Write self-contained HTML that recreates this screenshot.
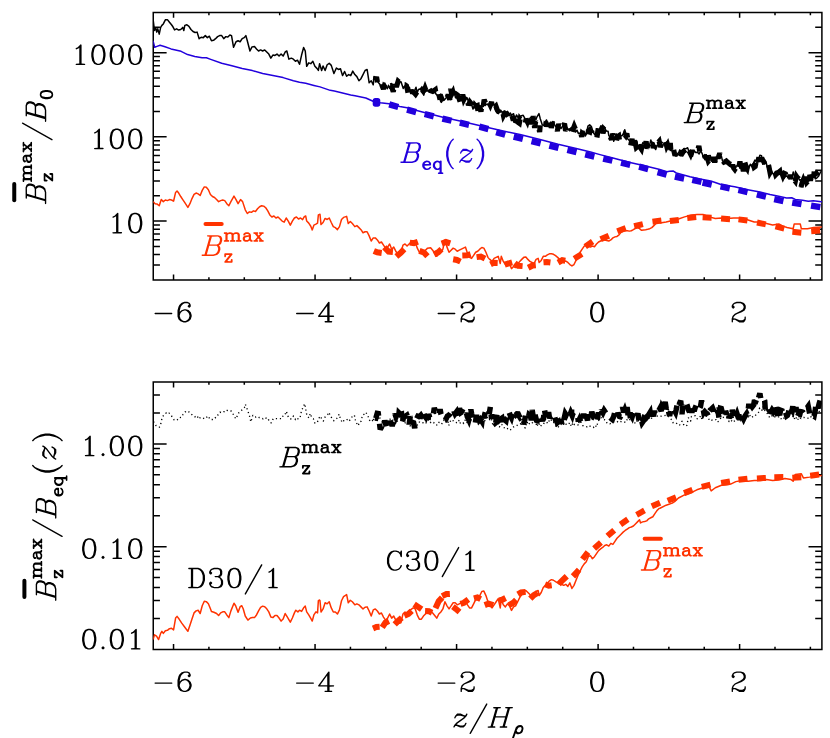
<!DOCTYPE html><html><head><meta charset="utf-8"><title>chart</title><style>html,body{margin:0;padding:0;background:#fff;font-family:"Liberation Sans",sans-serif}svg{display:block}</style></head><body><svg width="830" height="738" viewBox="0 0 830 738"><path d="M153.25,12.5H821.9V279.9H153.25ZM173.54,279.9v-5.35M173.54,12.5v5.35M208.92,279.9v-2.67M208.92,12.5v2.67M244.3,279.9v-2.67M244.3,12.5v2.67M279.68,279.9v-2.67M279.68,12.5v2.67M315.06,279.9v-5.35M315.06,12.5v5.35M350.44,279.9v-2.67M350.44,12.5v2.67M385.82,279.9v-2.67M385.82,12.5v2.67M421.2,279.9v-2.67M421.2,12.5v2.67M456.58,279.9v-5.35M456.58,12.5v5.35M491.96,279.9v-2.67M491.96,12.5v2.67M527.34,279.9v-2.67M527.34,12.5v2.67M562.72,279.9v-2.67M562.72,12.5v2.67M598.1,279.9v-5.35M598.1,12.5v5.35M633.48,279.9v-2.67M633.48,12.5v2.67M668.86,279.9v-2.67M668.86,12.5v2.67M704.24,279.9v-2.67M704.24,12.5v2.67M739.62,279.9v-5.35M739.62,12.5v5.35M775,279.9v-2.67M775,12.5v2.67M810.38,279.9v-2.67M810.38,12.5v2.67M153.25,279.9h6.69M821.9,279.9h-6.69M153.25,265.07h6.69M821.9,265.07h-6.69M153.25,254.56h6.69M821.9,254.56h-6.69M153.25,246.4h6.69M821.9,246.4h-6.69M153.25,239.73h6.69M821.9,239.73h-6.69M153.25,234.09h6.69M821.9,234.09h-6.69M153.25,229.21h6.69M821.9,229.21h-6.69M153.25,224.91h6.69M821.9,224.91h-6.69M153.25,221.05h13.37M821.9,221.05h-13.37M153.25,195.71h6.69M821.9,195.71h-6.69M153.25,180.88h6.69M821.9,180.88h-6.69M153.25,170.36h6.69M821.9,170.36h-6.69M153.25,162.21h6.69M821.9,162.21h-6.69M153.25,155.54h6.69M821.9,155.54h-6.69M153.25,149.9h6.69M821.9,149.9h-6.69M153.25,145.02h6.69M821.9,145.02h-6.69M153.25,140.71h6.69M821.9,140.71h-6.69M153.25,136.86h13.37M821.9,136.86h-13.37M153.25,111.52h6.69M821.9,111.52h-6.69M153.25,96.69h6.69M821.9,96.69h-6.69M153.25,86.17h6.69M821.9,86.17h-6.69M153.25,78.01h6.69M821.9,78.01h-6.69M153.25,71.35h6.69M821.9,71.35h-6.69M153.25,65.71h6.69M821.9,65.71h-6.69M153.25,60.83h6.69M821.9,60.83h-6.69M153.25,56.52h6.69M821.9,56.52h-6.69M153.25,52.67h13.37M821.9,52.67h-13.37M153.25,27.33h6.69M821.9,27.33h-6.69M153.25,12.5h6.69M821.9,12.5h-6.69" fill="none" stroke="#000" stroke-width="1.5" stroke-linecap="butt" stroke-linejoin="miter"/>
<path d="M153.25,382.05H821.9V649.4H153.25ZM173.54,649.4v-5.35M173.54,382.05v5.35M208.92,649.4v-2.67M208.92,382.05v2.67M244.3,649.4v-2.67M244.3,382.05v2.67M279.68,649.4v-2.67M279.68,382.05v2.67M315.06,649.4v-5.35M315.06,382.05v5.35M350.44,649.4v-2.67M350.44,382.05v2.67M385.82,649.4v-2.67M385.82,382.05v2.67M421.2,649.4v-2.67M421.2,382.05v2.67M456.58,649.4v-5.35M456.58,382.05v5.35M491.96,649.4v-2.67M491.96,382.05v2.67M527.34,649.4v-2.67M527.34,382.05v2.67M562.72,649.4v-2.67M562.72,382.05v2.67M598.1,649.4v-5.35M598.1,382.05v5.35M633.48,649.4v-2.67M633.48,382.05v2.67M668.86,649.4v-2.67M668.86,382.05v2.67M704.24,649.4v-2.67M704.24,382.05v2.67M739.62,649.4v-5.35M739.62,382.05v5.35M775,649.4v-2.67M775,382.05v2.67M810.38,649.4v-2.67M810.38,382.05v2.67M153.25,649.4h13.37M821.9,649.4h-13.37M153.25,618.47h6.69M821.9,618.47h-6.69M153.25,600.38h6.69M821.9,600.38h-6.69M153.25,587.54h6.69M821.9,587.54h-6.69M153.25,577.58h6.69M821.9,577.58h-6.69M153.25,569.45h6.69M821.9,569.45h-6.69M153.25,562.57h6.69M821.9,562.57h-6.69M153.25,556.61h6.69M821.9,556.61h-6.69M153.25,551.36h6.69M821.9,551.36h-6.69M153.25,546.65h13.37M821.9,546.65h-13.37M153.25,515.73h6.69M821.9,515.73h-6.69M153.25,497.63h6.69M821.9,497.63h-6.69M153.25,484.8h6.69M821.9,484.8h-6.69M153.25,474.84h6.69M821.9,474.84h-6.69M153.25,466.7h6.69M821.9,466.7h-6.69M153.25,459.82h6.69M821.9,459.82h-6.69M153.25,453.87h6.69M821.9,453.87h-6.69M153.25,448.61h6.69M821.9,448.61h-6.69M153.25,443.91h13.37M821.9,443.91h-13.37M153.25,412.98h6.69M821.9,412.98h-6.69M153.25,394.89h6.69M821.9,394.89h-6.69M153.25,382.05h6.69M821.9,382.05h-6.69" fill="none" stroke="#000" stroke-width="1.5" stroke-linecap="butt" stroke-linejoin="miter"/>
<path transform="translate(70.78,64.37)" d="M63.25,-20 60.62,-19.12 60.19,-18.75 60.12,-18.81 58.38,-16.19 58.12,-15.50 57.25,-11.06 57.25,-8.25 58.19,-3.56 60.12,-0.56 60.50,-0.25 63.12,0.62 65.31,0.69 68.31,-0.25 68.69,-0.56 70.62,-3.56 71.50,-7.94 71.50,-11.38 70.62,-15.75 68.75,-18.69 68.19,-19.12 65.56,-20ZM63.56,-18.62 65.19,-18.62 66.81,-17.81 67.50,-17.12 68.38,-15.38 69.25,-11 69.25,-8.31 68.38,-3.94 67.50,-2.19 66.81,-1.50 65.19,-0.69 63.62,-0.69 62,-1.50 61.31,-2.19 60.44,-3.94 59.56,-8.25 59.56,-11.06 60.44,-15.38 61.25,-17.06 62.06,-17.88ZM44.88,-20 42.25,-19.12 41.75,-18.81 39.94,-16.12 39.75,-15.62 38.88,-11.25 38.88,-8.06 39.75,-3.69 39.94,-3.25 41.69,-0.62 42.12,-0.25 44.75,0.62 46.94,0.69 50.06,-0.38 52.06,-3.25 52.25,-3.69 53.12,-8.06 53.12,-11.25 52.25,-15.62 52.06,-16.12 50.31,-18.75 49.75,-19.12 47.12,-20ZM45.19,-18.62 46.81,-18.62 48.31,-17.88 49.19,-17 50,-15.25 50.81,-11.19 50.81,-8.12 49.94,-3.88 49.12,-2.25 48.38,-1.50 46.81,-0.69 45.25,-0.69 43.62,-1.50 42.88,-2.25 42,-4.06 41.19,-8.12 41.19,-11.19 42.06,-15.44 42.81,-17 43.69,-17.88ZM26.44,-20 23.69,-19.06 23.25,-18.69 21.50,-16.06 20.50,-11.38 20.50,-7.94 21.38,-3.56 23.31,-0.56 23.69,-0.25 26.31,0.62 28.50,0.69 31.50,-0.25 31.88,-0.56 33.62,-3.19 33.88,-3.81 34.75,-8.25 34.75,-11.06 33.81,-15.75 33.62,-16.19 31.88,-18.81 31.81,-18.75 31.38,-19.12 28.75,-20ZM26.81,-18.62 28.38,-18.62 30,-17.81 30.75,-17.06 31.56,-15.38 32.44,-11.06 32.44,-8.25 31.56,-3.94 30.69,-2.19 30,-1.50 28.38,-0.69 26.81,-0.69 25.19,-1.50 24.50,-2.19 23.62,-3.94 22.75,-8.31 22.75,-11 23.62,-15.38 24.50,-17.12 25.25,-17.88ZM10.12,-20 9.62,-19.81 6.94,-17.12 5.25,-16.31 4.94,-16 4.81,-15.62 5.12,-15.06 5.50,-14.94 5.81,-15 7.69,-15.94 8.44,-16.62 8.50,-16.56 8.50,-0.75 5.25,-0.62 4.94,-0.38 4.81,0 4.94,0.38 5.50,0.69 13.81,0.69 14.19,0.56 14.50,0 14.38,-0.38 13.81,-0.69 10.81,-0.75 10.81,-19.31 10.69,-19.69Z" fill="#000" fill-rule="evenodd"/>
<path transform="translate(89.21,148.56)" d="M44.88,-20 42.25,-19.12 41.75,-18.81 39.94,-16.12 39.75,-15.62 38.88,-11.25 38.88,-8.06 39.75,-3.69 39.94,-3.25 41.69,-0.62 42.12,-0.25 44.75,0.62 46.94,0.69 50.06,-0.38 52.06,-3.25 52.25,-3.69 53.12,-8.06 53.12,-11.25 52.25,-15.62 52.06,-16.12 50.31,-18.75 49.75,-19.12 47.12,-20ZM45.19,-18.62 46.81,-18.62 48.31,-17.88 49.19,-17 50,-15.25 50.81,-11.19 50.81,-8.12 49.94,-3.88 49.12,-2.25 48.38,-1.50 46.81,-0.69 45.25,-0.69 43.62,-1.50 42.88,-2.25 42,-4.06 41.19,-8.12 41.19,-11.19 42.06,-15.44 42.81,-17 43.69,-17.88ZM26.44,-20 23.69,-19.06 23.25,-18.69 21.50,-16.06 20.50,-11.38 20.50,-7.94 21.38,-3.56 23.31,-0.56 23.69,-0.25 26.31,0.62 28.50,0.69 31.50,-0.25 31.88,-0.56 33.62,-3.19 33.88,-3.81 34.75,-8.25 34.75,-11.06 33.81,-15.75 33.62,-16.19 31.88,-18.81 31.81,-18.75 31.38,-19.12 28.75,-20ZM26.81,-18.62 28.38,-18.62 30,-17.81 30.75,-17.06 31.56,-15.38 32.44,-11.06 32.44,-8.25 31.56,-3.94 30.69,-2.19 30,-1.50 28.38,-0.69 26.81,-0.69 25.19,-1.50 24.50,-2.19 23.62,-3.94 22.75,-8.31 22.75,-11 23.62,-15.38 24.50,-17.12 25.25,-17.88ZM10.12,-20 9.62,-19.81 6.94,-17.12 5.25,-16.31 4.94,-16 4.81,-15.62 5.12,-15.06 5.50,-14.94 5.81,-15 7.69,-15.94 8.44,-16.62 8.50,-16.56 8.50,-0.75 5.25,-0.62 4.94,-0.38 4.81,0 4.94,0.38 5.50,0.69 13.81,0.69 14.19,0.56 14.50,0 14.38,-0.38 13.81,-0.69 10.81,-0.75 10.81,-19.31 10.69,-19.69Z" fill="#000" fill-rule="evenodd"/>
<path transform="translate(107.59,232.75)" d="M26.44,-20 23.69,-19.06 23.25,-18.69 21.50,-16.06 20.50,-11.38 20.50,-7.94 21.38,-3.56 23.31,-0.56 23.69,-0.25 26.31,0.62 28.50,0.69 31.50,-0.25 31.88,-0.56 33.62,-3.19 33.88,-3.81 34.75,-8.25 34.75,-11.06 33.81,-15.75 33.62,-16.19 31.88,-18.81 31.81,-18.75 31.38,-19.12 28.75,-20ZM26.81,-18.62 28.38,-18.62 30,-17.81 30.75,-17.06 31.56,-15.38 32.44,-11.06 32.44,-8.25 31.56,-3.94 30.69,-2.19 30,-1.50 28.38,-0.69 26.81,-0.69 25.19,-1.50 24.50,-2.19 23.62,-3.94 22.75,-8.31 22.75,-11 23.62,-15.38 24.50,-17.12 25.25,-17.88ZM10.12,-20 9.62,-19.81 6.94,-17.12 5.25,-16.31 4.94,-16 4.81,-15.62 5.12,-15.06 5.50,-14.94 5.81,-15 7.69,-15.94 8.44,-16.62 8.50,-16.56 8.50,-0.75 5.25,-0.62 4.94,-0.38 4.81,0 4.94,0.38 5.50,0.69 13.81,0.69 14.19,0.56 14.50,0 14.38,-0.38 13.81,-0.69 10.81,-0.75 10.81,-19.31 10.69,-19.69Z" fill="#000" fill-rule="evenodd"/>
<path transform="translate(80.03,455.61)" d="M23,-2.50 22.50,-2.31 21.50,-1.31 21.38,-0.94 21.62,-0.38 22.50,0.50 23,0.69 23.50,0.50 24.38,-0.38 24.62,-0.94 24.50,-1.31 23.50,-2.31ZM54.06,-20 51.44,-19.12 50.94,-18.81 49.19,-16.19 48.94,-15.56 48.06,-11.19 48.06,-8.12 49,-3.56 50.88,-0.62 51.31,-0.25 53.94,0.62 56.12,0.69 59.12,-0.25 59.56,-0.69 61.31,-3.31 62.31,-8 62.31,-11.31 61.31,-16.06 59.56,-18.69 59.12,-19.06 56.31,-20ZM54.38,-18.62 56,-18.62 57.62,-17.81 58.38,-17 59.19,-15.31 60.06,-10.94 60.06,-8.38 59.19,-4 58.31,-2.25 57.56,-1.50 56,-0.69 54.44,-0.69 52.81,-1.50 52.06,-2.25 51.25,-3.88 50.38,-8.19 50.38,-11.12 51.25,-15.44 52.06,-17.06 52.88,-17.88ZM35.62,-20 32.88,-19.06 32.44,-18.69 30.69,-16.06 29.69,-11.31 29.69,-8 30.62,-3.44 32.44,-0.69 32.88,-0.25 35.50,0.62 37.75,0.69 40.88,-0.38 42.88,-3.25 43.06,-3.75 43.94,-8.12 43.94,-11.19 43,-15.75 42.81,-16.19 41.06,-18.81 40.56,-19.12 37.94,-20ZM36,-18.62 37.62,-18.62 39.12,-17.88 39.94,-17.06 40.75,-15.44 41.62,-11.12 41.62,-8.19 40.75,-3.88 39.94,-2.25 39.19,-1.50 37.62,-0.69 36.06,-0.69 34.44,-1.50 33.69,-2.25 32.81,-4 31.94,-8.38 31.94,-10.94 32.81,-15.31 33.62,-17 34.25,-17.69ZM10.12,-20 9.62,-19.81 6.94,-17.12 5.25,-16.31 4.94,-16 4.81,-15.62 5.12,-15.06 5.50,-14.94 5.81,-15 7.69,-15.94 8.44,-16.62 8.50,-16.56 8.50,-0.75 5.25,-0.62 4.94,-0.38 4.81,0 4.94,0.38 5.50,0.69 13.81,0.69 14.19,0.56 14.50,0 14.38,-0.38 13.81,-0.69 10.81,-0.75 10.81,-19.31 10.69,-19.69Z" fill="#000" fill-rule="evenodd"/>
<path transform="translate(80.03,558.35)" d="M23,-2.50 22.50,-2.31 21.50,-1.31 21.38,-0.94 21.62,-0.38 22.50,0.50 23,0.69 23.50,0.50 24.38,-0.38 24.62,-0.94 24.50,-1.31 23.50,-2.31ZM54.06,-20 51.44,-19.12 50.94,-18.81 49.19,-16.19 48.94,-15.56 48.06,-11.19 48.06,-8.12 49,-3.56 50.88,-0.62 51.31,-0.25 53.94,0.62 56.12,0.69 59.12,-0.25 59.56,-0.69 61.31,-3.31 62.31,-8 62.31,-11.31 61.31,-16.06 59.56,-18.69 59.12,-19.06 56.31,-20ZM54.38,-18.62 56,-18.62 57.62,-17.81 58.38,-17 59.19,-15.31 60.06,-10.94 60.06,-8.38 59.19,-4 58.31,-2.25 57.56,-1.50 56,-0.69 54.44,-0.69 52.81,-1.50 52.06,-2.25 51.25,-3.88 50.38,-8.19 50.38,-11.12 51.25,-15.44 52.06,-17.06 52.88,-17.88ZM37.75,-20 37.25,-19.81 34.56,-17.12 32.88,-16.31 32.56,-16 32.44,-15.62 32.75,-15.06 33.12,-14.94 33.44,-15 35.19,-15.88 36.06,-16.69 36.12,-16.62 36.12,-0.75 32.88,-0.62 32.56,-0.38 32.44,0 32.56,0.38 33.12,0.69 41.38,0.69 41.75,0.56 42.06,0 41.94,-0.38 41.38,-0.69 38.44,-0.75 38.44,-19.31 38.31,-19.69ZM8.06,-20 5.44,-19.12 4.94,-18.81 3.19,-16.19 2.94,-15.56 2.06,-11.19 2.06,-8.12 3,-3.56 4.88,-0.62 5.31,-0.25 7.94,0.62 10.12,0.69 13.12,-0.25 13.56,-0.69 15.31,-3.31 16.31,-8 16.31,-11.31 15.31,-16.06 13.56,-18.69 13.12,-19.06 10.31,-20ZM8.38,-18.62 10,-18.62 11.62,-17.81 12.38,-17 13.19,-15.31 14.06,-10.94 14.06,-8.38 13.19,-4 12.31,-2.25 11.56,-1.50 10,-0.69 8.44,-0.69 6.81,-1.50 6.06,-2.25 5.25,-3.88 4.38,-8.19 4.38,-11.12 5.25,-15.44 6.06,-17.06 6.88,-17.88Z" fill="#000" fill-rule="evenodd"/>
<path transform="translate(80.03,648.85)" d="M23,-2.50 22.50,-2.31 21.50,-1.31 21.38,-0.94 21.62,-0.38 22.50,0.50 23,0.69 23.50,0.50 24.38,-0.38 24.62,-0.94 24.50,-1.31 23.50,-2.31ZM56.12,-20 55.62,-19.81 52.94,-17.12 51.25,-16.31 50.94,-16 50.81,-15.62 51.12,-15.06 51.50,-14.94 51.81,-15 53.69,-15.94 54.44,-16.62 54.50,-16.56 54.50,-0.75 51.25,-0.62 50.94,-0.38 50.81,0 50.94,0.38 51.50,0.69 59.81,0.69 60.19,0.56 60.50,0 60.38,-0.38 59.81,-0.69 56.81,-0.75 56.81,-19.31 56.69,-19.69ZM35.62,-20 32.88,-19.06 32.44,-18.69 30.69,-16.06 29.69,-11.31 29.69,-8 30.62,-3.44 32.44,-0.69 32.88,-0.25 35.50,0.62 37.75,0.69 40.88,-0.38 42.88,-3.25 43.06,-3.75 43.94,-8.12 43.94,-11.19 43,-15.75 42.81,-16.19 41.06,-18.81 40.56,-19.12 37.94,-20ZM36,-18.62 37.62,-18.62 39.12,-17.88 39.94,-17.06 40.75,-15.44 41.62,-11.12 41.62,-8.19 40.75,-3.88 39.94,-2.25 39.19,-1.50 37.62,-0.69 36.06,-0.69 34.44,-1.50 33.69,-2.25 32.81,-4 31.94,-8.38 31.94,-10.94 32.81,-15.31 33.62,-17 34.25,-17.69ZM8.06,-20 5.44,-19.12 4.94,-18.81 3.19,-16.19 2.94,-15.56 2.06,-11.19 2.06,-8.12 3,-3.56 4.88,-0.62 5.31,-0.25 7.94,0.62 10.12,0.69 13.12,-0.25 13.56,-0.69 15.31,-3.31 16.31,-8 16.31,-11.31 15.31,-16.06 13.56,-18.69 13.12,-19.06 10.31,-20ZM8.38,-18.62 10,-18.62 11.62,-17.81 12.38,-17 13.19,-15.31 14.06,-10.94 14.06,-8.38 13.19,-4 12.31,-2.25 11.56,-1.50 10,-0.69 8.44,-0.69 6.81,-1.50 6.06,-2.25 5.25,-3.88 4.38,-8.19 4.38,-11.12 5.25,-15.44 6.06,-17.06 6.88,-17.88Z" fill="#000" fill-rule="evenodd"/>
<path transform="translate(151.48,321.8)" d="M3,-8.25 3.12,-7.88 3.69,-7.56 20.25,-7.56 20.62,-7.69 20.94,-8.25 20.81,-8.62 20.25,-8.94 3.69,-8.94 3.31,-8.81ZM35.88,-20 32.88,-20 30.25,-19.12 29.88,-18.88 27.88,-16.88 27,-15.12 26,-11.25 26,-5.31 26.94,-2.56 27.12,-2.25 28.94,-0.44 32.19,0.69 34.38,0.62 37.31,-0.44 39.12,-2.25 39.31,-2.56 40.25,-5.50 40.19,-6.81 39.31,-9.44 37.06,-11.69 34.25,-12.62 32.88,-12.62 30,-11.62 28.38,-10 28.31,-10.06 28.31,-11.12 29.12,-14.44 29.94,-16.06 31.69,-17.88 33.25,-18.62 35.75,-18.62 37.12,-17.94 37.50,-17.19 36.31,-16.12 36.12,-15.62 36.31,-15.12 37.19,-14.25 37.75,-14.06 38,-14.12 39.12,-15.12 39.31,-15.62 39.25,-16.94 38.31,-18.75 37.94,-19.06ZM33.06,-11.25 34,-11.25 35.38,-10.56 37.12,-8.81 37.94,-6.44 37.94,-5.56 37.12,-3.12 35.50,-1.50 33.94,-0.69 32.38,-0.69 30.75,-1.50 29.12,-3.12 28.31,-5.50 28.31,-6.50 29.06,-8.75 30.81,-10.50Z" fill="#000" fill-rule="evenodd"/>
<path transform="translate(151.48,691.4)" d="M3,-8.25 3.12,-7.88 3.69,-7.56 20.25,-7.56 20.62,-7.69 20.94,-8.25 20.81,-8.62 20.25,-8.94 3.69,-8.94 3.31,-8.81ZM35.88,-20 32.88,-20 30.25,-19.12 29.88,-18.88 27.88,-16.88 27,-15.12 26,-11.25 26,-5.31 26.94,-2.56 27.12,-2.25 28.94,-0.44 32.19,0.69 34.38,0.62 37.31,-0.44 39.12,-2.25 39.31,-2.56 40.25,-5.50 40.19,-6.81 39.31,-9.44 37.06,-11.69 34.25,-12.62 32.88,-12.62 30,-11.62 28.38,-10 28.31,-10.06 28.31,-11.12 29.12,-14.44 29.94,-16.06 31.69,-17.88 33.25,-18.62 35.75,-18.62 37.12,-17.94 37.50,-17.19 36.31,-16.12 36.12,-15.62 36.31,-15.12 37.19,-14.25 37.75,-14.06 38,-14.12 39.12,-15.12 39.31,-15.62 39.25,-16.94 38.31,-18.75 37.94,-19.06ZM33.06,-11.25 34,-11.25 35.38,-10.56 37.12,-8.81 37.94,-6.44 37.94,-5.56 37.12,-3.12 35.50,-1.50 33.94,-0.69 32.38,-0.69 30.75,-1.50 29.12,-3.12 28.31,-5.50 28.31,-6.50 29.06,-8.75 30.81,-10.50Z" fill="#000" fill-rule="evenodd"/>
<path transform="translate(293,321.8)" d="M3,-8.25 3.12,-7.88 3.69,-7.56 20.25,-7.56 20.62,-7.69 20.94,-8.25 20.81,-8.62 20.25,-8.94 3.69,-8.94 3.31,-8.81ZM35.88,-20 35.25,-19.69 25.19,-5.94 25.06,-5.50 25.19,-5.12 25.75,-4.81 34.19,-4.81 34.25,-0.75 32.19,-0.69 31.81,-0.56 31.56,-0.25 31.56,0.25 31.81,0.56 32.19,0.69 38.62,0.69 39,0.56 39.31,0 39,-0.56 38.62,-0.69 36.56,-0.75 36.56,-4.75 40.50,-4.81 40.88,-4.94 41.19,-5.50 41.06,-5.88 40.50,-6.19 36.56,-6.25 36.56,-19.31 36.44,-19.69ZM34.19,-15.88 34.25,-6.25 27.19,-6.19 27.12,-6.25Z" fill="#000" fill-rule="evenodd"/>
<path transform="translate(293,691.4)" d="M3,-8.25 3.12,-7.88 3.69,-7.56 20.25,-7.56 20.62,-7.69 20.94,-8.25 20.81,-8.62 20.25,-8.94 3.69,-8.94 3.31,-8.81ZM35.88,-20 35.25,-19.69 25.19,-5.94 25.06,-5.50 25.19,-5.12 25.75,-4.81 34.19,-4.81 34.25,-0.75 32.19,-0.69 31.81,-0.56 31.56,-0.25 31.56,0.25 31.81,0.56 32.19,0.69 38.62,0.69 39,0.56 39.31,0 39,-0.56 38.62,-0.69 36.56,-0.75 36.56,-4.75 40.50,-4.81 40.88,-4.94 41.19,-5.50 41.06,-5.88 40.50,-6.19 36.56,-6.25 36.56,-19.31 36.44,-19.69ZM34.19,-15.88 34.25,-6.25 27.19,-6.19 27.12,-6.25Z" fill="#000" fill-rule="evenodd"/>
<path transform="translate(434.52,321.8)" d="M3,-8.25 3.12,-7.88 3.69,-7.56 20.25,-7.56 20.62,-7.69 20.94,-8.25 20.81,-8.62 20.25,-8.94 3.69,-8.94 3.31,-8.81ZM28.44,-19.12 26.94,-17.75 26.06,-16 26.06,-14.50 27.12,-13.31 27.62,-13.12 28,-13.25 29.12,-14.50 29.19,-14.75 29.06,-15.12 27.81,-16.31 28.12,-17.06 28.88,-17.81 31.31,-18.62 34.81,-18.62 36.44,-17.81 37.19,-17.06 37.94,-15.50 37.94,-13.94 37.25,-12.56 36.94,-12.25 34.38,-10.56 29.12,-8 27.12,-6.06 26.88,-5.62 26,-3 26.06,0.25 26.44,0.62 26.69,0.69 27.06,0.56 27.38,0 27.38,-1.56 27.88,-2.06 29.25,-2.06 33.81,0.62 38,0.62 39.31,-0.69 40.19,-2.44 40.25,-4.62 40.12,-5 39.81,-5.25 39.31,-5.25 38.94,-4.88 38.88,-3.06 38.19,-2.38 36.69,-1.62 34.06,-1.62 29.81,-3.38 27.62,-3.50 28.19,-5.12 29.88,-6.81 31.62,-7.69 36.12,-9.44 38.94,-11.31 39.31,-11.69 40.19,-13.50 40.19,-16 39.31,-17.75 38.12,-18.94 35.19,-20 31.06,-20Z" fill="#000" fill-rule="evenodd"/>
<path transform="translate(434.52,691.4)" d="M3,-8.25 3.12,-7.88 3.69,-7.56 20.25,-7.56 20.62,-7.69 20.94,-8.25 20.81,-8.62 20.25,-8.94 3.69,-8.94 3.31,-8.81ZM28.44,-19.12 26.94,-17.75 26.06,-16 26.06,-14.50 27.12,-13.31 27.62,-13.12 28,-13.25 29.12,-14.50 29.19,-14.75 29.06,-15.12 27.81,-16.31 28.12,-17.06 28.88,-17.81 31.31,-18.62 34.81,-18.62 36.44,-17.81 37.19,-17.06 37.94,-15.50 37.94,-13.94 37.25,-12.56 36.94,-12.25 34.38,-10.56 29.12,-8 27.12,-6.06 26.88,-5.62 26,-3 26.06,0.25 26.44,0.62 26.69,0.69 27.06,0.56 27.38,0 27.38,-1.56 27.88,-2.06 29.25,-2.06 33.81,0.62 38,0.62 39.31,-0.69 40.19,-2.44 40.25,-4.62 40.12,-5 39.81,-5.25 39.31,-5.25 38.94,-4.88 38.88,-3.06 38.19,-2.38 36.69,-1.62 34.06,-1.62 29.81,-3.38 27.62,-3.50 28.19,-5.12 29.88,-6.81 31.62,-7.69 36.12,-9.44 38.94,-11.31 39.31,-11.69 40.19,-13.50 40.19,-16 39.31,-17.75 38.12,-18.94 35.19,-20 31.06,-20Z" fill="#000" fill-rule="evenodd"/>
<path transform="translate(588.01,321.8)" d="M8.06,-20 5.44,-19.12 4.94,-18.81 3.19,-16.19 2.94,-15.56 2.06,-11.19 2.06,-8.12 3,-3.56 4.88,-0.62 5.31,-0.25 7.94,0.62 10.12,0.69 13.12,-0.25 13.56,-0.69 15.31,-3.31 16.31,-8 16.31,-11.31 15.31,-16.06 13.56,-18.69 13.12,-19.06 10.31,-20ZM8.38,-18.62 10,-18.62 11.62,-17.81 12.38,-17 13.19,-15.31 14.06,-10.94 14.06,-8.38 13.19,-4 12.31,-2.25 11.56,-1.50 10,-0.69 8.44,-0.69 6.81,-1.50 6.06,-2.25 5.25,-3.88 4.38,-8.19 4.38,-11.12 5.25,-15.44 6.06,-17.06 6.88,-17.88Z" fill="#000" fill-rule="evenodd"/>
<path transform="translate(588.01,691.4)" d="M8.06,-20 5.44,-19.12 4.94,-18.81 3.19,-16.19 2.94,-15.56 2.06,-11.19 2.06,-8.12 3,-3.56 4.88,-0.62 5.31,-0.25 7.94,0.62 10.12,0.69 13.12,-0.25 13.56,-0.69 15.31,-3.31 16.31,-8 16.31,-11.31 15.31,-16.06 13.56,-18.69 13.12,-19.06 10.31,-20ZM8.38,-18.62 10,-18.62 11.62,-17.81 12.38,-17 13.19,-15.31 14.06,-10.94 14.06,-8.38 13.19,-4 12.31,-2.25 11.56,-1.50 10,-0.69 8.44,-0.69 6.81,-1.50 6.06,-2.25 5.25,-3.88 4.38,-8.19 4.38,-11.12 5.25,-15.44 6.06,-17.06 6.88,-17.88Z" fill="#000" fill-rule="evenodd"/>
<path transform="translate(729.53,321.8)" d="M4.50,-19.12 3.06,-17.81 2.12,-15.94 2.12,-14.50 3.19,-13.31 3.69,-13.12 4.19,-13.31 5.25,-14.50 5.31,-14.75 5.19,-15.12 3.88,-16.31 4.19,-17 4.94,-17.81 7.38,-18.62 10.94,-18.62 12.44,-17.88 13.25,-17.06 14.06,-15.44 14.06,-14 13.19,-12.38 10.69,-10.69 5.19,-8 3,-5.75 2.12,-3.12 2.12,0.25 2.50,0.62 2.75,0.69 3.12,0.56 3.44,0 3.44,-1.50 4,-2.06 5.38,-2.06 9.88,0.62 14.06,0.62 14.31,0.50 15.38,-0.62 16.25,-2.38 16.31,-4.62 16.19,-5 15.88,-5.25 15.38,-5.25 15,-4.88 14.94,-3.06 14.25,-2.38 12.75,-1.62 10.12,-1.62 5.88,-3.38 3.81,-3.44 3.75,-3.62 4.25,-5.12 5.94,-6.81 7.69,-7.69 12.19,-9.44 15.12,-11.38 16.25,-13.44 16.25,-16 15.31,-17.88 14.31,-18.88 13.88,-19.12 11.25,-20 7.12,-20Z" fill="#000" fill-rule="evenodd"/>
<path transform="translate(729.53,691.4)" d="M4.50,-19.12 3.06,-17.81 2.12,-15.94 2.12,-14.50 3.19,-13.31 3.69,-13.12 4.19,-13.31 5.25,-14.50 5.31,-14.75 5.19,-15.12 3.88,-16.31 4.19,-17 4.94,-17.81 7.38,-18.62 10.94,-18.62 12.44,-17.88 13.25,-17.06 14.06,-15.44 14.06,-14 13.19,-12.38 10.69,-10.69 5.19,-8 3,-5.75 2.12,-3.12 2.12,0.25 2.50,0.62 2.75,0.69 3.12,0.56 3.44,0 3.44,-1.50 4,-2.06 5.38,-2.06 9.88,0.62 14.06,0.62 14.31,0.50 15.38,-0.62 16.25,-2.38 16.31,-4.62 16.19,-5 15.88,-5.25 15.38,-5.25 15,-4.88 14.94,-3.06 14.25,-2.38 12.75,-1.62 10.12,-1.62 5.88,-3.38 3.81,-3.44 3.75,-3.62 4.25,-5.12 5.94,-6.81 7.69,-7.69 12.19,-9.44 15.12,-11.38 16.25,-13.44 16.25,-16 15.31,-17.88 14.31,-18.88 13.88,-19.12 11.25,-20 7.12,-20Z" fill="#000" fill-rule="evenodd"/>
<path transform="translate(684.25,122.5)" d="M5.25,-19.94 4.94,-19.69 4.81,-19.31 5.12,-18.75 5.50,-18.62 7.38,-18.56 2.38,-1.06 2.19,-0.69 -0.25,-0.62 -0.62,-0.25 -0.69,0 -0.56,0.38 0,0.69 11.19,0.69 14.69,-0.19 15.25,-0.44 17.06,-2.25 18.19,-5.50 18.12,-7.69 17.19,-9.50 16.62,-10 17.88,-10.50 18.94,-11.56 20,-14.50 19.94,-16.88 19.06,-18.62 18.50,-19.12 15.88,-20ZM4.62,-0.75 7.12,-9.44 14.44,-9.44 15,-8.88 15.88,-7.19 15.88,-5.56 15.06,-3.19 13.38,-1.50 11,-0.69ZM9.69,-18.56 15.50,-18.62 16.88,-17.94 17.69,-16.44 17.69,-14.69 16.88,-12.31 16.12,-11.56 14.62,-10.81 7.56,-10.81 7.56,-11.19ZM51.26,-22.61 51.08,-22.11 51.26,-21.61 51.58,-21.36 52.64,-21.30 55.14,-18.11 52.64,-15.11 51.58,-15.05 51.26,-14.80 51.08,-14.30 51.14,-13.99 51.39,-13.68 51.89,-13.49 55.58,-13.55 56.01,-13.99 56.01,-14.61 55.58,-15.05 54.83,-15.18 56.20,-16.74 57.51,-15.11 57.20,-15.05 56.76,-14.61 56.76,-13.99 57.20,-13.55 60.83,-13.49 61.14,-13.55 61.45,-13.80 61.64,-14.30 61.45,-14.80 61.14,-15.05 60.14,-15.11 57.58,-18.36 60.08,-21.30 61.14,-21.36 61.45,-21.61 61.64,-22.11 61.58,-22.43 61.33,-22.74 60.83,-22.93 57.20,-22.86 56.76,-22.43 56.76,-21.80 57.20,-21.36 57.89,-21.24 56.58,-19.74 56.26,-19.99 55.26,-21.30 55.58,-21.36 56.01,-21.80 56.01,-22.43 55.58,-22.86 51.89,-22.93 51.58,-22.86ZM41.26,-21.55 41.08,-20.99 41.14,-20.11 41.39,-19.80 41.89,-19.61 42.45,-19.61 42.95,-19.80 43.20,-20.11 43.20,-21.05 43.70,-21.30 45.58,-21.30 46.64,-20.68 46.64,-20.24 46.45,-20.05 43.51,-19.61 43.33,-19.49 43.20,-19.55 41.70,-19.05 41.26,-18.74 40.58,-17.49 40.51,-15.99 40.89,-14.93 41.39,-14.24 41.64,-14.05 43.14,-13.55 45.20,-13.49 45.58,-13.55 46.70,-14.11 47.20,-14.61 47.64,-14.11 48.76,-13.55 49.70,-13.49 50.01,-13.55 50.33,-13.80 50.51,-14.30 50.45,-14.61 50.01,-15.05 49.45,-15.11 48.83,-16.18 48.76,-20.24 48.20,-21.36 47.26,-22.30 46.14,-22.86 43.51,-22.93 42.08,-22.30ZM46.64,-18.36 46.64,-16.30 45.89,-15.55 45.01,-15.11 43.70,-15.11 43.01,-15.49 42.70,-16.11 42.70,-16.99 43.14,-17.68 44.08,-18.05 46.33,-18.43ZM21.57,-22.43 21.57,-21.80 21.82,-21.49 22.32,-21.30 23.20,-21.24 23.20,-15.18 22.01,-15.05 21.70,-14.80 21.51,-14.30 21.57,-13.99 22.01,-13.55 26.20,-13.49 26.51,-13.55 26.82,-13.80 27.01,-14.30 26.95,-14.61 26.70,-14.93 26.20,-15.11 25.39,-15.18 25.39,-20.11 26.14,-20.86 27.45,-21.30 28.26,-21.30 28.89,-20.99 29.32,-20.24 29.32,-15.18 28.14,-15.05 27.82,-14.80 27.64,-14.30 27.70,-13.99 28.14,-13.55 32.39,-13.49 32.70,-13.55 33.01,-13.80 33.20,-14.30 33.14,-14.61 32.89,-14.93 32.39,-15.11 31.51,-15.18 31.51,-20.11 32.26,-20.86 33.58,-21.30 34.45,-21.30 35.08,-20.99 35.45,-20.30 35.45,-15.18 34.58,-15.11 34.08,-14.93 33.83,-14.61 33.76,-14.30 33.95,-13.80 34.26,-13.55 34.58,-13.49 38.51,-13.49 38.83,-13.55 39.26,-13.99 39.26,-14.61 39.01,-14.93 38.51,-15.11 37.64,-15.18 37.64,-20.43 37.58,-20.80 37.01,-21.93 36.51,-22.36 35.01,-22.86 33.51,-22.93 31.64,-22.36 30.95,-21.80 30.32,-22.36 28.45,-22.93 26.95,-22.86 25.39,-22.30 24.89,-22.86 22.32,-22.93 22.01,-22.86ZM22.39,-1.64 22.14,-1.33 22.07,-1.01 22.07,1.24 22.14,1.55 22.57,1.99 23.20,1.99 23.51,1.74 23.70,1.36 24.01,-0.08 24.14,-0.20 27.32,-0.14 22.26,6.24 22.07,6.80 22.26,7.30 22.57,7.55 22.89,7.61 29.57,7.61 30.07,7.42 30.32,7.11 30.39,6.80 30.39,4.55 30.32,4.24 29.89,3.80 29.26,3.80 28.95,4.05 28.76,4.36 28.32,5.99 25.14,5.92 30.14,-0.39 30.39,-1.01 30.20,-1.51 29.89,-1.76 29.57,-1.83 22.89,-1.83Z" fill="#000" fill-rule="evenodd"/>
<path transform="translate(202.2,255.2)" d="M5.25,-19.94 4.94,-19.69 4.81,-19.31 5.12,-18.75 5.50,-18.62 7.38,-18.56 2.38,-1.06 2.19,-0.69 -0.25,-0.62 -0.62,-0.25 -0.69,0 -0.56,0.38 0,0.69 11.19,0.69 14.69,-0.19 15.25,-0.44 17.06,-2.25 18.19,-5.50 18.12,-7.69 17.19,-9.50 16.62,-10 17.88,-10.50 18.94,-11.56 20,-14.50 19.94,-16.88 19.06,-18.62 18.50,-19.12 15.88,-20ZM4.62,-0.75 7.12,-9.44 14.44,-9.44 15,-8.88 15.88,-7.19 15.88,-5.56 15.06,-3.19 13.38,-1.50 11,-0.69ZM9.69,-18.56 15.50,-18.62 16.88,-17.94 17.69,-16.44 17.69,-14.69 16.88,-12.31 16.12,-11.56 14.62,-10.81 7.56,-10.81 7.56,-11.19ZM51.26,-22.61 51.08,-22.11 51.26,-21.61 51.58,-21.36 52.64,-21.30 55.14,-18.11 52.64,-15.11 51.58,-15.05 51.26,-14.80 51.08,-14.30 51.14,-13.99 51.39,-13.68 51.89,-13.49 55.58,-13.55 56.01,-13.99 56.01,-14.61 55.58,-15.05 54.83,-15.18 56.20,-16.74 57.51,-15.11 57.20,-15.05 56.76,-14.61 56.76,-13.99 57.20,-13.55 60.83,-13.49 61.14,-13.55 61.45,-13.80 61.64,-14.30 61.45,-14.80 61.14,-15.05 60.14,-15.11 57.58,-18.36 60.08,-21.30 61.14,-21.36 61.45,-21.61 61.64,-22.11 61.58,-22.43 61.33,-22.74 60.83,-22.93 57.20,-22.86 56.76,-22.43 56.76,-21.80 57.20,-21.36 57.89,-21.24 56.58,-19.74 56.26,-19.99 55.26,-21.30 55.58,-21.36 56.01,-21.80 56.01,-22.43 55.58,-22.86 51.89,-22.93 51.58,-22.86ZM41.26,-21.55 41.08,-20.99 41.14,-20.11 41.39,-19.80 41.89,-19.61 42.45,-19.61 42.95,-19.80 43.20,-20.11 43.20,-21.05 43.70,-21.30 45.58,-21.30 46.64,-20.68 46.64,-20.24 46.45,-20.05 43.51,-19.61 43.33,-19.49 43.20,-19.55 41.70,-19.05 41.26,-18.74 40.58,-17.49 40.51,-15.99 40.89,-14.93 41.39,-14.24 41.64,-14.05 43.14,-13.55 45.20,-13.49 45.58,-13.55 46.70,-14.11 47.20,-14.61 47.64,-14.11 48.76,-13.55 49.70,-13.49 50.01,-13.55 50.33,-13.80 50.51,-14.30 50.45,-14.61 50.01,-15.05 49.45,-15.11 48.83,-16.18 48.76,-20.24 48.20,-21.36 47.26,-22.30 46.14,-22.86 43.51,-22.93 42.08,-22.30ZM46.64,-18.36 46.64,-16.30 45.89,-15.55 45.01,-15.11 43.70,-15.11 43.01,-15.49 42.70,-16.11 42.70,-16.99 43.14,-17.68 44.08,-18.05 46.33,-18.43ZM21.57,-22.43 21.57,-21.80 21.82,-21.49 22.32,-21.30 23.20,-21.24 23.20,-15.18 22.01,-15.05 21.70,-14.80 21.51,-14.30 21.57,-13.99 22.01,-13.55 26.20,-13.49 26.51,-13.55 26.82,-13.80 27.01,-14.30 26.95,-14.61 26.70,-14.93 26.20,-15.11 25.39,-15.18 25.39,-20.11 26.14,-20.86 27.45,-21.30 28.26,-21.30 28.89,-20.99 29.32,-20.24 29.32,-15.18 28.14,-15.05 27.82,-14.80 27.64,-14.30 27.70,-13.99 28.14,-13.55 32.39,-13.49 32.70,-13.55 33.01,-13.80 33.20,-14.30 33.14,-14.61 32.89,-14.93 32.39,-15.11 31.51,-15.18 31.51,-20.11 32.26,-20.86 33.58,-21.30 34.45,-21.30 35.08,-20.99 35.45,-20.30 35.45,-15.18 34.58,-15.11 34.08,-14.93 33.83,-14.61 33.76,-14.30 33.95,-13.80 34.26,-13.55 34.58,-13.49 38.51,-13.49 38.83,-13.55 39.26,-13.99 39.26,-14.61 39.01,-14.93 38.51,-15.11 37.64,-15.18 37.64,-20.43 37.58,-20.80 37.01,-21.93 36.51,-22.36 35.01,-22.86 33.51,-22.93 31.64,-22.36 30.95,-21.80 30.32,-22.36 28.45,-22.93 26.95,-22.86 25.39,-22.30 24.89,-22.86 22.32,-22.93 22.01,-22.86ZM22.39,-1.64 22.14,-1.33 22.07,-1.01 22.07,1.24 22.14,1.55 22.57,1.99 23.20,1.99 23.51,1.74 23.70,1.36 24.01,-0.08 24.14,-0.20 27.32,-0.14 22.26,6.24 22.07,6.80 22.26,7.30 22.57,7.55 22.89,7.61 29.57,7.61 30.07,7.42 30.32,7.11 30.39,6.80 30.39,4.55 30.32,4.24 29.89,3.80 29.26,3.80 28.95,4.05 28.76,4.36 28.32,5.99 25.14,5.92 30.14,-0.39 30.39,-1.01 30.20,-1.51 29.89,-1.76 29.57,-1.83 22.89,-1.83Z" fill="#ff3300" fill-rule="evenodd"/>
<path transform="translate(202.2,255.2)" d="M3.3,-31.3h16.2" stroke="#ff3300" stroke-width="4" stroke-linecap="round" fill="none"/>
<path transform="translate(279.9,466.8)" d="M5.25,-19.94 4.94,-19.69 4.81,-19.31 5.12,-18.75 5.50,-18.62 7.38,-18.56 2.38,-1.06 2.19,-0.69 -0.25,-0.62 -0.62,-0.25 -0.69,0 -0.56,0.38 0,0.69 11.19,0.69 14.69,-0.19 15.25,-0.44 17.06,-2.25 18.19,-5.50 18.12,-7.69 17.19,-9.50 16.62,-10 17.88,-10.50 18.94,-11.56 20,-14.50 19.94,-16.88 19.06,-18.62 18.50,-19.12 15.88,-20ZM4.62,-0.75 7.12,-9.44 14.44,-9.44 15,-8.88 15.88,-7.19 15.88,-5.56 15.06,-3.19 13.38,-1.50 11,-0.69ZM9.69,-18.56 15.50,-18.62 16.88,-17.94 17.69,-16.44 17.69,-14.69 16.88,-12.31 16.12,-11.56 14.62,-10.81 7.56,-10.81 7.56,-11.19ZM51.26,-22.61 51.08,-22.11 51.26,-21.61 51.58,-21.36 52.64,-21.30 55.14,-18.11 52.64,-15.11 51.58,-15.05 51.26,-14.80 51.08,-14.30 51.14,-13.99 51.39,-13.68 51.89,-13.49 55.58,-13.55 56.01,-13.99 56.01,-14.61 55.58,-15.05 54.83,-15.18 56.20,-16.74 57.51,-15.11 57.20,-15.05 56.76,-14.61 56.76,-13.99 57.20,-13.55 60.83,-13.49 61.14,-13.55 61.45,-13.80 61.64,-14.30 61.45,-14.80 61.14,-15.05 60.14,-15.11 57.58,-18.36 60.08,-21.30 61.14,-21.36 61.45,-21.61 61.64,-22.11 61.58,-22.43 61.33,-22.74 60.83,-22.93 57.20,-22.86 56.76,-22.43 56.76,-21.80 57.20,-21.36 57.89,-21.24 56.58,-19.74 56.26,-19.99 55.26,-21.30 55.58,-21.36 56.01,-21.80 56.01,-22.43 55.58,-22.86 51.89,-22.93 51.58,-22.86ZM41.26,-21.55 41.08,-20.99 41.14,-20.11 41.39,-19.80 41.89,-19.61 42.45,-19.61 42.95,-19.80 43.20,-20.11 43.20,-21.05 43.70,-21.30 45.58,-21.30 46.64,-20.68 46.64,-20.24 46.45,-20.05 43.51,-19.61 43.33,-19.49 43.20,-19.55 41.70,-19.05 41.26,-18.74 40.58,-17.49 40.51,-15.99 40.89,-14.93 41.39,-14.24 41.64,-14.05 43.14,-13.55 45.20,-13.49 45.58,-13.55 46.70,-14.11 47.20,-14.61 47.64,-14.11 48.76,-13.55 49.70,-13.49 50.01,-13.55 50.33,-13.80 50.51,-14.30 50.45,-14.61 50.01,-15.05 49.45,-15.11 48.83,-16.18 48.76,-20.24 48.20,-21.36 47.26,-22.30 46.14,-22.86 43.51,-22.93 42.08,-22.30ZM46.64,-18.36 46.64,-16.30 45.89,-15.55 45.01,-15.11 43.70,-15.11 43.01,-15.49 42.70,-16.11 42.70,-16.99 43.14,-17.68 44.08,-18.05 46.33,-18.43ZM21.57,-22.43 21.57,-21.80 21.82,-21.49 22.32,-21.30 23.20,-21.24 23.20,-15.18 22.01,-15.05 21.70,-14.80 21.51,-14.30 21.57,-13.99 22.01,-13.55 26.20,-13.49 26.51,-13.55 26.82,-13.80 27.01,-14.30 26.95,-14.61 26.70,-14.93 26.20,-15.11 25.39,-15.18 25.39,-20.11 26.14,-20.86 27.45,-21.30 28.26,-21.30 28.89,-20.99 29.32,-20.24 29.32,-15.18 28.14,-15.05 27.82,-14.80 27.64,-14.30 27.70,-13.99 28.14,-13.55 32.39,-13.49 32.70,-13.55 33.01,-13.80 33.20,-14.30 33.14,-14.61 32.89,-14.93 32.39,-15.11 31.51,-15.18 31.51,-20.11 32.26,-20.86 33.58,-21.30 34.45,-21.30 35.08,-20.99 35.45,-20.30 35.45,-15.18 34.58,-15.11 34.08,-14.93 33.83,-14.61 33.76,-14.30 33.95,-13.80 34.26,-13.55 34.58,-13.49 38.51,-13.49 38.83,-13.55 39.26,-13.99 39.26,-14.61 39.01,-14.93 38.51,-15.11 37.64,-15.18 37.64,-20.43 37.58,-20.80 37.01,-21.93 36.51,-22.36 35.01,-22.86 33.51,-22.93 31.64,-22.36 30.95,-21.80 30.32,-22.36 28.45,-22.93 26.95,-22.86 25.39,-22.30 24.89,-22.86 22.32,-22.93 22.01,-22.86ZM22.39,-1.64 22.14,-1.33 22.07,-1.01 22.07,1.24 22.14,1.55 22.57,1.99 23.20,1.99 23.51,1.74 23.70,1.36 24.01,-0.08 24.14,-0.20 27.32,-0.14 22.26,6.24 22.07,6.80 22.26,7.30 22.57,7.55 22.89,7.61 29.57,7.61 30.07,7.42 30.32,7.11 30.39,6.80 30.39,4.55 30.32,4.24 29.89,3.80 29.26,3.80 28.95,4.05 28.76,4.36 28.32,5.99 25.14,5.92 30.14,-0.39 30.39,-1.01 30.20,-1.51 29.89,-1.76 29.57,-1.83 22.89,-1.83Z" fill="#000" fill-rule="evenodd"/>
<path transform="translate(641.35,569.95)" d="M5.25,-19.94 4.94,-19.69 4.81,-19.31 5.12,-18.75 5.50,-18.62 7.38,-18.56 2.38,-1.06 2.19,-0.69 -0.25,-0.62 -0.62,-0.25 -0.69,0 -0.56,0.38 0,0.69 11.19,0.69 14.69,-0.19 15.25,-0.44 17.06,-2.25 18.19,-5.50 18.12,-7.69 17.19,-9.50 16.62,-10 17.88,-10.50 18.94,-11.56 20,-14.50 19.94,-16.88 19.06,-18.62 18.50,-19.12 15.88,-20ZM4.62,-0.75 7.12,-9.44 14.44,-9.44 15,-8.88 15.88,-7.19 15.88,-5.56 15.06,-3.19 13.38,-1.50 11,-0.69ZM9.69,-18.56 15.50,-18.62 16.88,-17.94 17.69,-16.44 17.69,-14.69 16.88,-12.31 16.12,-11.56 14.62,-10.81 7.56,-10.81 7.56,-11.19ZM51.26,-22.61 51.08,-22.11 51.26,-21.61 51.58,-21.36 52.64,-21.30 55.14,-18.11 52.64,-15.11 51.58,-15.05 51.26,-14.80 51.08,-14.30 51.14,-13.99 51.39,-13.68 51.89,-13.49 55.58,-13.55 56.01,-13.99 56.01,-14.61 55.58,-15.05 54.83,-15.18 56.20,-16.74 57.51,-15.11 57.20,-15.05 56.76,-14.61 56.76,-13.99 57.20,-13.55 60.83,-13.49 61.14,-13.55 61.45,-13.80 61.64,-14.30 61.45,-14.80 61.14,-15.05 60.14,-15.11 57.58,-18.36 60.08,-21.30 61.14,-21.36 61.45,-21.61 61.64,-22.11 61.58,-22.43 61.33,-22.74 60.83,-22.93 57.20,-22.86 56.76,-22.43 56.76,-21.80 57.20,-21.36 57.89,-21.24 56.58,-19.74 56.26,-19.99 55.26,-21.30 55.58,-21.36 56.01,-21.80 56.01,-22.43 55.58,-22.86 51.89,-22.93 51.58,-22.86ZM41.26,-21.55 41.08,-20.99 41.14,-20.11 41.39,-19.80 41.89,-19.61 42.45,-19.61 42.95,-19.80 43.20,-20.11 43.20,-21.05 43.70,-21.30 45.58,-21.30 46.64,-20.68 46.64,-20.24 46.45,-20.05 43.51,-19.61 43.33,-19.49 43.20,-19.55 41.70,-19.05 41.26,-18.74 40.58,-17.49 40.51,-15.99 40.89,-14.93 41.39,-14.24 41.64,-14.05 43.14,-13.55 45.20,-13.49 45.58,-13.55 46.70,-14.11 47.20,-14.61 47.64,-14.11 48.76,-13.55 49.70,-13.49 50.01,-13.55 50.33,-13.80 50.51,-14.30 50.45,-14.61 50.01,-15.05 49.45,-15.11 48.83,-16.18 48.76,-20.24 48.20,-21.36 47.26,-22.30 46.14,-22.86 43.51,-22.93 42.08,-22.30ZM46.64,-18.36 46.64,-16.30 45.89,-15.55 45.01,-15.11 43.70,-15.11 43.01,-15.49 42.70,-16.11 42.70,-16.99 43.14,-17.68 44.08,-18.05 46.33,-18.43ZM21.57,-22.43 21.57,-21.80 21.82,-21.49 22.32,-21.30 23.20,-21.24 23.20,-15.18 22.01,-15.05 21.70,-14.80 21.51,-14.30 21.57,-13.99 22.01,-13.55 26.20,-13.49 26.51,-13.55 26.82,-13.80 27.01,-14.30 26.95,-14.61 26.70,-14.93 26.20,-15.11 25.39,-15.18 25.39,-20.11 26.14,-20.86 27.45,-21.30 28.26,-21.30 28.89,-20.99 29.32,-20.24 29.32,-15.18 28.14,-15.05 27.82,-14.80 27.64,-14.30 27.70,-13.99 28.14,-13.55 32.39,-13.49 32.70,-13.55 33.01,-13.80 33.20,-14.30 33.14,-14.61 32.89,-14.93 32.39,-15.11 31.51,-15.18 31.51,-20.11 32.26,-20.86 33.58,-21.30 34.45,-21.30 35.08,-20.99 35.45,-20.30 35.45,-15.18 34.58,-15.11 34.08,-14.93 33.83,-14.61 33.76,-14.30 33.95,-13.80 34.26,-13.55 34.58,-13.49 38.51,-13.49 38.83,-13.55 39.26,-13.99 39.26,-14.61 39.01,-14.93 38.51,-15.11 37.64,-15.18 37.64,-20.43 37.58,-20.80 37.01,-21.93 36.51,-22.36 35.01,-22.86 33.51,-22.93 31.64,-22.36 30.95,-21.80 30.32,-22.36 28.45,-22.93 26.95,-22.86 25.39,-22.30 24.89,-22.86 22.32,-22.93 22.01,-22.86ZM22.39,-1.64 22.14,-1.33 22.07,-1.01 22.07,1.24 22.14,1.55 22.57,1.99 23.20,1.99 23.51,1.74 23.70,1.36 24.01,-0.08 24.14,-0.20 27.32,-0.14 22.26,6.24 22.07,6.80 22.26,7.30 22.57,7.55 22.89,7.61 29.57,7.61 30.07,7.42 30.32,7.11 30.39,6.80 30.39,4.55 30.32,4.24 29.89,3.80 29.26,3.80 28.95,4.05 28.76,4.36 28.32,5.99 25.14,5.92 30.14,-0.39 30.39,-1.01 30.20,-1.51 29.89,-1.76 29.57,-1.83 22.89,-1.83Z" fill="#ff3300" fill-rule="evenodd"/>
<path transform="translate(641.35,569.95)" d="M3.3,-31.3h16.2" stroke="#ff3300" stroke-width="4" stroke-linecap="round" fill="none"/>
<path transform="translate(400.95,162.2)" d="M5.25,-19.94 4.94,-19.69 4.81,-19.31 5.12,-18.75 5.50,-18.62 7.38,-18.56 2.38,-1.06 2.19,-0.69 -0.25,-0.62 -0.62,-0.25 -0.69,0 -0.56,0.38 0,0.69 11.19,0.69 14.69,-0.19 15.25,-0.44 17.06,-2.25 18.19,-5.50 18.12,-7.69 17.19,-9.50 16.62,-10 17.88,-10.50 18.94,-11.56 20,-14.50 19.94,-16.88 19.06,-18.62 18.50,-19.12 15.88,-20ZM4.62,-0.75 7.12,-9.44 14.44,-9.44 15,-8.88 15.88,-7.19 15.88,-5.56 15.06,-3.19 13.38,-1.50 11,-0.69ZM9.69,-18.56 15.50,-18.62 16.88,-17.94 17.69,-16.44 17.69,-14.69 16.88,-12.31 16.12,-11.56 14.62,-10.81 7.56,-10.81 7.56,-11.19ZM34.02,-1 32.65,0.31 32.40,0.75 31.90,2.25 31.90,3.94 32.40,5.44 32.65,5.88 34.02,7.19 35.65,7.75 37.15,7.81 37.52,7.75 38.46,7.25 38.59,7.31 38.59,10.06 37.40,10.19 37.09,10.44 36.90,10.94 36.96,11.25 37.40,11.69 41.96,11.69 42.40,11.25 42.46,10.94 42.27,10.44 41.96,10.19 40.77,10.06 40.71,-1.12 40.46,-1.44 39.96,-1.62 39.09,-1.56 38.59,-1 37.52,-1.56 36.02,-1.62ZM36.21,0 36.96,0 37.84,0.44 38.59,1.19 38.59,5 37.84,5.75 36.96,6.19 36.21,6.19 35.46,5.81 34.52,4.88 34.09,3.62 34.09,2.50 34.46,1.38 35.52,0.31ZM25.40,-1.62 23.52,-1.06 22.09,0.25 21.84,0.62 21.27,2.25 21.27,3.94 21.84,5.56 23.15,7 23.52,7.25 25.02,7.75 26.52,7.81 28.40,7.25 28.71,7.06 30.09,5.62 30.15,5.31 29.96,4.81 29.65,4.56 29.02,4.56 27.77,5.75 26.46,6.19 25.59,6.19 24.84,5.81 23.90,4.88 23.46,3.44 29.65,3.31 30.09,2.88 30.15,1.44 30.09,1.06 29.52,-0.06 28.59,-1 27.46,-1.56ZM23.77,1.62 23.90,1.31 24.90,0.31 25.59,0 26.90,0 27.52,0.31 27.96,1.06 27.90,1.75 23.84,1.75ZM52.27,-23.69 51.77,-23.50 49.84,-21.56 48.09,-18.94 46.02,-14.75 45.15,-10.38 45.15,-6.19 46.15,-1.50 48.09,2.38 49.84,5 51.77,6.94 52.27,7.12 52.84,6.81 52.96,6.44 52.77,5.94 51.02,4.25 49.21,0.69 48.34,-1.94 47.46,-6.25 47.46,-10.25 48.34,-14.62 49.21,-17.25 50.90,-20.62 52.77,-22.50 52.96,-23 52.84,-23.38ZM62.21,-13.50 61.96,-13.38 59.96,-11.31 59.09,-9.56 59.09,-8.94 59.46,-8.56 59.96,-8.56 60.34,-8.88 61.02,-10.38 61.21,-10.56 62.59,-11.25 65.34,-11.25 69.03,-10.31 68.28,-9.56 61.27,-4.38 59.21,-2.31 58.15,-0.31 58.15,0.25 58.52,0.62 59.02,0.62 59.40,0.31 60.15,-1.12 61.46,-1.12 64.90,0.62 68.21,0.62 68.46,0.50 70.40,-1.44 71.46,-3.69 71.34,-4.06 71.03,-4.31 70.53,-4.31 70.09,-3.94 69.40,-2.50 69.21,-2.31 67.84,-1.62 65.15,-1.62 61.84,-2.50 61.59,-2.44 61.40,-2.56 62.09,-3.25 69.34,-8.62 71.40,-10.75 72.28,-12.50 72.28,-13.12 71.90,-13.50 71.40,-13.50 71.03,-13.19 70.28,-11.75 68.96,-11.75 65.53,-13.50ZM76.15,-23.69 75.59,-23.38 75.46,-23 75.65,-22.50 77.53,-20.62 79.21,-17.25 80.09,-14.62 80.96,-10.31 80.96,-6.25 80.09,-1.94 79.21,0.69 77.53,4.06 75.65,5.94 75.46,6.44 75.59,6.81 76.15,7.12 76.65,6.94 78.65,4.94 80.40,2.31 82.40,-1.81 83.28,-6.19 83.28,-10.38 82.28,-15.06 80.40,-18.88 78.59,-21.56 76.65,-23.50Z" fill="#2200dd" fill-rule="evenodd"/>
<path transform="translate(187,587.6)" d="M86.50,-19.81 86.12,-19.69 83.38,-16.94 81.69,-16.12 81.44,-15.88 81.31,-15.50 81.62,-14.94 82,-14.81 82.31,-14.88 84.12,-15.75 84.88,-16.50 84.94,-16.44 84.94,-0.75 81.75,-0.62 81.44,-0.38 81.31,0 81.44,0.38 82,0.69 90.19,0.69 90.56,0.56 90.88,0 90.75,-0.38 90.19,-0.69 87.19,-0.75 87.19,-19.12 87.06,-19.50ZM46.44,-19.81 43.62,-18.94 43.12,-18.62 41.38,-16 41.19,-15.56 40.31,-11.19 40.31,-7.94 41.25,-3.38 43.12,-0.50 43.62,-0.19 46.06,0.62 48.25,0.69 51.25,-0.25 51.69,-0.62 53.38,-3.19 53.56,-3.69 54.44,-8.06 54.44,-11.06 53.50,-15.62 51.69,-18.50 51.25,-18.88 48.62,-19.75ZM46.56,-18.44 48.12,-18.44 49.75,-17.62 50.50,-16.81 51.31,-15.12 52.12,-11.06 52.12,-8.06 51.25,-3.81 50.50,-2.31 49.62,-1.44 48.12,-0.69 46.56,-0.69 45.06,-1.44 44.25,-2.25 43.44,-3.88 42.56,-8.25 42.56,-10.88 43.44,-15.25 44.25,-16.88 45.06,-17.69ZM26.94,-19.75 24.38,-18.88 23.19,-17.81 22.12,-15.81 22.12,-14.31 23.19,-13.19 23.69,-13 24.19,-13.19 25.06,-14.06 25.25,-14.56 25.06,-15.12 23.88,-16.19 24.19,-16.81 24.94,-17.62 27.38,-18.44 30.88,-18.44 32.25,-17.75 33,-16.25 33,-13.81 32.31,-12.44 30.88,-11.62 28,-11.56 27.69,-11.31 27.56,-10.94 27.69,-10.56 28.25,-10.25 30.81,-10.25 32.44,-9.44 33.06,-8.81 33.94,-6.25 33.94,-3.81 33.19,-2.31 32.25,-1.38 30.88,-0.69 27.38,-0.69 25,-1.50 24.19,-2.31 23.88,-2.94 25.06,-4.06 25.25,-4.56 25.06,-5.06 23.94,-6.06 23.69,-6.12 23.19,-5.94 22.19,-4.94 22.06,-4.56 22.12,-3.31 23.19,-1.31 24.06,-0.44 24.50,-0.19 27.31,0.69 31.31,0.62 34.25,-0.44 35.12,-1.31 36.12,-3.25 36.12,-6.75 35.12,-8.69 33.12,-10.62 32.88,-10.75 32.94,-10.88 33.81,-11.12 34.25,-11.44 35.25,-13.38 35.25,-16.69 34.38,-18.44 33.94,-18.88 30.94,-19.81ZM1.44,-19.69 1.12,-19.12 1.44,-18.56 1.81,-18.44 3.88,-18.38 3.88,-0.75 1.56,-0.62 1.19,-0.25 1.12,0 1.25,0.38 1.81,0.69 10.94,0.69 14.19,-0.44 16.12,-2.44 17.06,-4.31 18,-7.31 17.94,-12.19 17.06,-14.81 16.12,-16.69 13.88,-18.88 11.25,-19.75 1.81,-19.81ZM6.19,-18.44 10.81,-18.44 12.31,-17.69 14,-16 14.94,-14.12 15.69,-11.88 15.69,-7.25 14.94,-5 14,-3.12 12.31,-1.44 10.81,-0.69 6.12,-0.75ZM75.06,-23.31 74.69,-23.44 74.44,-23.38 74.06,-23.12 57.75,5.88 57.62,6.38 57.94,6.94 58.31,7.06 58.69,6.94 59.25,6.12 75.31,-22.44 75.31,-23Z" fill="#000" fill-rule="evenodd"/>
<path transform="translate(384.9,570.2)" d="M85.62,-19.81 85.12,-19.62 82.44,-16.94 80.75,-16.12 80.50,-15.88 80.38,-15.50 80.69,-14.94 81.06,-14.81 81.44,-14.88 83.19,-15.75 83.94,-16.44 84,-16.38 84,-0.75 80.81,-0.62 80.50,-0.38 80.38,0 80.50,0.38 81.06,0.69 89.25,0.69 89.62,0.56 89.94,0 89.81,-0.38 89.25,-0.69 86.31,-0.75 86.31,-19.12 86.19,-19.50ZM45.56,-19.81 42.56,-18.88 42.12,-18.50 40.50,-16.06 40.25,-15.44 39.38,-11.06 39.38,-8.06 40.31,-3.50 42.12,-0.62 42.69,-0.19 45.12,0.62 47.38,0.69 50.31,-0.25 50.69,-0.50 52.50,-3.25 53.50,-7.94 53.50,-11.19 52.56,-15.75 50.69,-18.62 50.31,-18.88 47.69,-19.75ZM45.62,-18.44 47.25,-18.44 48.75,-17.69 49.56,-16.88 50.38,-15.25 51.25,-10.88 51.25,-8.25 50.38,-3.88 49.56,-2.25 48.75,-1.44 47.25,-0.69 45.62,-0.69 44.25,-1.38 43.31,-2.31 42.50,-4 41.69,-8.06 41.69,-11.06 42.56,-15.31 43.31,-16.81 44.12,-17.69ZM26,-19.75 23.44,-18.88 22.12,-17.62 21.25,-15.88 21.25,-14.31 22.25,-13.19 22.75,-13 23.31,-13.19 24.19,-14.06 24.38,-14.56 24.19,-15.06 23,-16.12 23.31,-16.88 24.19,-17.69 26.44,-18.44 29.94,-18.44 31.31,-17.75 32.12,-16.19 32.12,-13.88 31.38,-12.38 29.94,-11.62 27.06,-11.56 26.75,-11.31 26.62,-10.94 26.75,-10.56 27.31,-10.25 29.94,-10.25 31.50,-9.44 32.19,-8.75 33,-6.38 33,-3.75 32.25,-2.25 31.44,-1.44 29.94,-0.69 26.44,-0.69 24.06,-1.50 23.31,-2.25 23,-3 24.19,-4.06 24.38,-4.56 24.19,-5.06 23,-6.06 22.75,-6.12 22.38,-6 21.38,-5.06 21.19,-4.56 21.25,-3.25 22.12,-1.50 23.56,-0.19 26.44,0.69 30.38,0.62 33.31,-0.44 34.38,-1.56 35.25,-3.31 35.25,-6.69 34.19,-8.69 31.94,-10.81 33.06,-11.19 33.38,-11.44 34.31,-13.31 34.31,-16.75 33.38,-18.56 33,-18.88 30.06,-19.81ZM16.62,-19.75 16.12,-19.75 15.81,-19.50 15.12,-17.69 13.88,-18.88 11.25,-19.75 8.75,-19.75 6.31,-18.94 5.88,-18.69 4.06,-16.88 3,-14.88 2.06,-12.06 2.06,-7.06 3,-4.25 3.88,-2.50 5.88,-0.44 6.19,-0.25 8.75,0.62 11.25,0.62 14.19,-0.44 16.12,-2.44 17,-4.19 17.06,-4.56 16.94,-4.94 16.38,-5.25 16,-5.12 15.75,-4.88 14.88,-3.06 13.31,-1.50 10.88,-0.69 9.25,-0.69 7.62,-1.50 6.06,-3.06 5.12,-4.94 4.31,-7.38 4.31,-11.75 5.12,-14.19 6.06,-16.06 7.62,-17.62 9.25,-18.44 10.88,-18.44 13.31,-17.62 14.88,-16.06 15.81,-13.31 16.38,-13 16.75,-13.12 17.06,-13.69 17.06,-19.12 16.94,-19.50ZM74.12,-23.31 73.75,-23.44 73.38,-23.31 72.69,-22.31 56.88,5.81 56.69,6.38 57,6.94 57.38,7.06 57.62,7 58.12,6.50 74.19,-22.06 74.44,-22.75Z" fill="#000" fill-rule="evenodd"/>
<path transform="translate(451.2,727)" d="M6.19,-13.50 5.94,-13.38 3.94,-11.31 3.06,-9.56 3.06,-8.94 3.44,-8.56 3.94,-8.56 4.31,-8.88 5,-10.38 5.19,-10.56 6.56,-11.25 9.31,-11.25 13,-10.31 12.25,-9.56 5.25,-4.38 3.19,-2.31 2.12,-0.31 2.12,0.25 2.50,0.62 3,0.62 3.38,0.31 4.12,-1.12 5.44,-1.12 8.88,0.62 12.19,0.62 12.44,0.50 14.38,-1.44 15.44,-3.69 15.31,-4.06 15,-4.31 14.50,-4.31 14.06,-3.94 13.38,-2.50 13.19,-2.31 11.81,-1.62 9.12,-1.62 5.81,-2.50 5.56,-2.44 5.38,-2.56 6.06,-3.25 13.31,-8.62 15.38,-10.75 16.25,-12.50 16.25,-13.12 15.88,-13.50 15.38,-13.50 15,-13.19 14.25,-11.75 12.94,-11.75 9.50,-13.50ZM35.92,-23.56 35.55,-23.69 35.17,-23.56 34.49,-22.50 18.43,6.06 18.30,6.44 18.61,7 18.99,7.12 19.36,7 19.93,6.25 35.99,-22.31 36.24,-23ZM42.25,-19.88 41.94,-19.31 42.25,-18.75 42.62,-18.62 44.50,-18.56 39.44,-0.88 39.31,-0.69 36.88,-0.62 36.50,-0.25 36.44,0 36.56,0.38 37.12,0.69 43.56,0.69 44.12,0.38 44.25,0 43.94,-0.56 43.56,-0.69 41.81,-0.69 41.75,-0.88 44.25,-9.44 53.75,-9.44 53.75,-9.06 51.38,-0.75 49.06,-0.69 48.69,-0.56 48.38,0 48.50,0.38 49.06,0.69 55.50,0.69 55.88,0.56 56.19,0 55.88,-0.56 55.50,-0.69 53.75,-0.69 53.69,-0.81 58.75,-18.50 58.88,-18.62 61.31,-18.69 61.69,-19.06 61.75,-19.31 61.62,-19.69 61.06,-20 54.62,-20 54.06,-19.69 53.94,-19.31 54,-19.06 54.38,-18.69 56.44,-18.56 54.19,-10.81 44.69,-10.81 44.69,-11.19 46.81,-18.56 49.31,-18.69 49.69,-19.06 49.69,-19.56 49.44,-19.88 49.06,-20 42.62,-20Z" fill="#000" fill-rule="evenodd"/>
<path d="M516.2,729.6c0.6,-2.4 2.2,-3.6 4,-3.6c1.8,0 2.6,1.4 2.2,3.4c-0.4,2.2 -2,3.9 -3.9,3.9c-1.5,0 -2.4,-0.9 -2.5,-2.2M516.6,727.8L513,738" fill="none" stroke="#000" stroke-width="1.9" stroke-linecap="round"/>
<path transform="translate(45.55,203.5) rotate(-90)" d="M5.25,-19.94 4.94,-19.69 4.81,-19.31 5.12,-18.75 5.50,-18.62 7.38,-18.56 2.38,-1.06 2.19,-0.69 -0.25,-0.62 -0.62,-0.25 -0.69,0 -0.56,0.38 0,0.69 11.19,0.69 14.69,-0.19 15.25,-0.44 17.06,-2.25 18.19,-5.50 18.12,-7.69 17.19,-9.50 16.62,-10 17.88,-10.50 18.94,-11.56 20,-14.50 19.94,-16.88 19.06,-18.62 18.50,-19.12 15.88,-20ZM4.62,-0.75 7.12,-9.44 14.44,-9.44 15,-8.88 15.88,-7.19 15.88,-5.56 15.06,-3.19 13.38,-1.50 11,-0.69ZM9.69,-18.56 15.50,-18.62 16.88,-17.94 17.69,-16.44 17.69,-14.69 16.88,-12.31 16.12,-11.56 14.62,-10.81 7.56,-10.81 7.56,-11.19ZM51.26,-22.61 51.08,-22.11 51.26,-21.61 51.58,-21.36 52.64,-21.30 55.14,-18.11 52.64,-15.11 51.58,-15.05 51.26,-14.80 51.08,-14.30 51.14,-13.99 51.39,-13.68 51.89,-13.49 55.58,-13.55 56.01,-13.99 56.01,-14.61 55.58,-15.05 54.83,-15.18 56.20,-16.74 57.51,-15.11 57.20,-15.05 56.76,-14.61 56.76,-13.99 57.20,-13.55 60.83,-13.49 61.14,-13.55 61.45,-13.80 61.64,-14.30 61.45,-14.80 61.14,-15.05 60.14,-15.11 57.58,-18.36 60.08,-21.30 61.14,-21.36 61.45,-21.61 61.64,-22.11 61.58,-22.43 61.33,-22.74 60.83,-22.93 57.20,-22.86 56.76,-22.43 56.76,-21.80 57.20,-21.36 57.89,-21.24 56.58,-19.74 56.26,-19.99 55.26,-21.30 55.58,-21.36 56.01,-21.80 56.01,-22.43 55.58,-22.86 51.89,-22.93 51.58,-22.86ZM41.26,-21.55 41.08,-20.99 41.14,-20.11 41.39,-19.80 41.89,-19.61 42.45,-19.61 42.95,-19.80 43.20,-20.11 43.20,-21.05 43.70,-21.30 45.58,-21.30 46.64,-20.68 46.64,-20.24 46.45,-20.05 43.51,-19.61 43.33,-19.49 43.20,-19.55 41.70,-19.05 41.26,-18.74 40.58,-17.49 40.51,-15.99 40.89,-14.93 41.39,-14.24 41.64,-14.05 43.14,-13.55 45.20,-13.49 45.58,-13.55 46.70,-14.11 47.20,-14.61 47.64,-14.11 48.76,-13.55 49.70,-13.49 50.01,-13.55 50.33,-13.80 50.51,-14.30 50.45,-14.61 50.01,-15.05 49.45,-15.11 48.83,-16.18 48.76,-20.24 48.20,-21.36 47.26,-22.30 46.14,-22.86 43.51,-22.93 42.08,-22.30ZM46.64,-18.36 46.64,-16.30 45.89,-15.55 45.01,-15.11 43.70,-15.11 43.01,-15.49 42.70,-16.11 42.70,-16.99 43.14,-17.68 44.08,-18.05 46.33,-18.43ZM21.57,-22.43 21.57,-21.80 21.82,-21.49 22.32,-21.30 23.20,-21.24 23.20,-15.18 22.01,-15.05 21.70,-14.80 21.51,-14.30 21.57,-13.99 22.01,-13.55 26.20,-13.49 26.51,-13.55 26.82,-13.80 27.01,-14.30 26.95,-14.61 26.70,-14.93 26.20,-15.11 25.39,-15.18 25.39,-20.11 26.14,-20.86 27.45,-21.30 28.26,-21.30 28.89,-20.99 29.32,-20.24 29.32,-15.18 28.14,-15.05 27.82,-14.80 27.64,-14.30 27.70,-13.99 28.14,-13.55 32.39,-13.49 32.70,-13.55 33.01,-13.80 33.20,-14.30 33.14,-14.61 32.89,-14.93 32.39,-15.11 31.51,-15.18 31.51,-20.11 32.26,-20.86 33.58,-21.30 34.45,-21.30 35.08,-20.99 35.45,-20.30 35.45,-15.18 34.58,-15.11 34.08,-14.93 33.83,-14.61 33.76,-14.30 33.95,-13.80 34.26,-13.55 34.58,-13.49 38.51,-13.49 38.83,-13.55 39.26,-13.99 39.26,-14.61 39.01,-14.93 38.51,-15.11 37.64,-15.18 37.64,-20.43 37.58,-20.80 37.01,-21.93 36.51,-22.36 35.01,-22.86 33.51,-22.93 31.64,-22.36 30.95,-21.80 30.32,-22.36 28.45,-22.93 26.95,-22.86 25.39,-22.30 24.89,-22.86 22.32,-22.93 22.01,-22.86ZM22.39,-1.64 22.14,-1.33 22.07,-1.01 22.07,1.24 22.14,1.55 22.57,1.99 23.20,1.99 23.51,1.74 23.70,1.36 24.01,-0.08 24.14,-0.20 27.32,-0.14 22.26,6.24 22.07,6.80 22.26,7.30 22.57,7.55 22.89,7.61 29.57,7.61 30.07,7.42 30.32,7.11 30.39,6.80 30.39,4.55 30.32,4.24 29.89,3.80 29.26,3.80 28.95,4.05 28.76,4.36 28.32,5.99 25.14,5.92 30.14,-0.39 30.39,-1.01 30.20,-1.51 29.89,-1.76 29.57,-1.83 22.89,-1.83ZM80.75,-23.56 80.38,-23.69 80,-23.56 79.31,-22.50 63.25,6.06 63.12,6.44 63.44,7 63.81,7.12 64.19,7 64.75,6.25 80.81,-22.31 81.06,-23ZM87.50,-19.94 87.19,-19.69 87.06,-19.31 87.38,-18.75 87.75,-18.62 89.62,-18.56 84.62,-1.06 84.44,-0.69 82,-0.62 81.62,-0.25 81.56,0 81.69,0.38 82.25,0.69 93.44,0.69 96.94,-0.19 97.50,-0.44 99.31,-2.25 100.44,-5.50 100.38,-7.69 99.44,-9.50 98.88,-10 100.12,-10.50 101.19,-11.56 102.25,-14.50 102.19,-16.88 101.31,-18.62 100.75,-19.12 98.12,-20ZM86.88,-0.75 89.38,-9.44 96.69,-9.44 97.25,-8.88 98.12,-7.19 98.12,-5.56 97.31,-3.19 95.62,-1.50 93.25,-0.69ZM91.94,-18.56 97.75,-18.62 99.12,-17.94 99.94,-16.44 99.94,-14.69 99.12,-12.31 98.38,-11.56 96.88,-10.81 89.81,-10.81 89.81,-11.19ZM108.31,-5.76 106.19,-5.01 104.88,-3.20 104.19,-0.20 104.19,2.05 104.75,4.74 105.88,6.55 106.44,7.05 107.94,7.55 109.44,7.61 111.31,7.05 111.62,6.86 112.94,4.99 113.62,1.92 113.62,-0.08 113,-3.01 111.88,-4.76 111.44,-5.14 109.75,-5.70ZM108.50,-4.14 109.25,-4.14 110.12,-3.70 110.44,-3.39 110.94,-2.39 111.44,0.11 111.44,1.80 110.94,4.24 110.44,5.24 110.12,5.55 109.25,5.99 108.50,5.99 107.75,5.61 107.31,5.17 106.81,4.11 106.38,1.92 106.38,-0.01 106.88,-2.45 107.31,-3.33 107.75,-3.76Z" fill="#000" fill-rule="evenodd"/>
<path transform="translate(45.55,203.5) rotate(-90)" d="M3.3,-31.3h16.2" stroke="#000" stroke-width="4" stroke-linecap="round" fill="none"/>
<path transform="translate(55.7,600.2) rotate(-90)" d="M5.25,-19.94 4.94,-19.69 4.81,-19.31 5.12,-18.75 5.50,-18.62 7.38,-18.56 2.38,-1.06 2.19,-0.69 -0.25,-0.62 -0.62,-0.25 -0.69,0 -0.56,0.38 0,0.69 11.19,0.69 14.69,-0.19 15.25,-0.44 17.06,-2.25 18.19,-5.50 18.12,-7.69 17.19,-9.50 16.62,-10 17.88,-10.50 18.94,-11.56 20,-14.50 19.94,-16.88 19.06,-18.62 18.50,-19.12 15.88,-20ZM4.62,-0.75 7.12,-9.44 14.44,-9.44 15,-8.88 15.88,-7.19 15.88,-5.56 15.06,-3.19 13.38,-1.50 11,-0.69ZM9.69,-18.56 15.50,-18.62 16.88,-17.94 17.69,-16.44 17.69,-14.69 16.88,-12.31 16.12,-11.56 14.62,-10.81 7.56,-10.81 7.56,-11.19ZM51.26,-22.61 51.08,-22.11 51.26,-21.61 51.58,-21.36 52.64,-21.30 55.14,-18.11 52.64,-15.11 51.58,-15.05 51.26,-14.80 51.08,-14.30 51.14,-13.99 51.39,-13.68 51.89,-13.49 55.58,-13.55 56.01,-13.99 56.01,-14.61 55.58,-15.05 54.83,-15.18 56.20,-16.74 57.51,-15.11 57.20,-15.05 56.76,-14.61 56.76,-13.99 57.20,-13.55 60.83,-13.49 61.14,-13.55 61.45,-13.80 61.64,-14.30 61.45,-14.80 61.14,-15.05 60.14,-15.11 57.58,-18.36 60.08,-21.30 61.14,-21.36 61.45,-21.61 61.64,-22.11 61.58,-22.43 61.33,-22.74 60.83,-22.93 57.20,-22.86 56.76,-22.43 56.76,-21.80 57.20,-21.36 57.89,-21.24 56.58,-19.74 56.26,-19.99 55.26,-21.30 55.58,-21.36 56.01,-21.80 56.01,-22.43 55.58,-22.86 51.89,-22.93 51.58,-22.86ZM41.26,-21.55 41.08,-20.99 41.14,-20.11 41.39,-19.80 41.89,-19.61 42.45,-19.61 42.95,-19.80 43.20,-20.11 43.20,-21.05 43.70,-21.30 45.58,-21.30 46.64,-20.68 46.64,-20.24 46.45,-20.05 43.51,-19.61 43.33,-19.49 43.20,-19.55 41.70,-19.05 41.26,-18.74 40.58,-17.49 40.51,-15.99 40.89,-14.93 41.39,-14.24 41.64,-14.05 43.14,-13.55 45.20,-13.49 45.58,-13.55 46.70,-14.11 47.20,-14.61 47.64,-14.11 48.76,-13.55 49.70,-13.49 50.01,-13.55 50.33,-13.80 50.51,-14.30 50.45,-14.61 50.01,-15.05 49.45,-15.11 48.83,-16.18 48.76,-20.24 48.20,-21.36 47.26,-22.30 46.14,-22.86 43.51,-22.93 42.08,-22.30ZM46.64,-18.36 46.64,-16.30 45.89,-15.55 45.01,-15.11 43.70,-15.11 43.01,-15.49 42.70,-16.11 42.70,-16.99 43.14,-17.68 44.08,-18.05 46.33,-18.43ZM21.57,-22.43 21.57,-21.80 21.82,-21.49 22.32,-21.30 23.20,-21.24 23.20,-15.18 22.01,-15.05 21.70,-14.80 21.51,-14.30 21.57,-13.99 22.01,-13.55 26.20,-13.49 26.51,-13.55 26.82,-13.80 27.01,-14.30 26.95,-14.61 26.70,-14.93 26.20,-15.11 25.39,-15.18 25.39,-20.11 26.14,-20.86 27.45,-21.30 28.26,-21.30 28.89,-20.99 29.32,-20.24 29.32,-15.18 28.14,-15.05 27.82,-14.80 27.64,-14.30 27.70,-13.99 28.14,-13.55 32.39,-13.49 32.70,-13.55 33.01,-13.80 33.20,-14.30 33.14,-14.61 32.89,-14.93 32.39,-15.11 31.51,-15.18 31.51,-20.11 32.26,-20.86 33.58,-21.30 34.45,-21.30 35.08,-20.99 35.45,-20.30 35.45,-15.18 34.58,-15.11 34.08,-14.93 33.83,-14.61 33.76,-14.30 33.95,-13.80 34.26,-13.55 34.58,-13.49 38.51,-13.49 38.83,-13.55 39.26,-13.99 39.26,-14.61 39.01,-14.93 38.51,-15.11 37.64,-15.18 37.64,-20.43 37.58,-20.80 37.01,-21.93 36.51,-22.36 35.01,-22.86 33.51,-22.93 31.64,-22.36 30.95,-21.80 30.32,-22.36 28.45,-22.93 26.95,-22.86 25.39,-22.30 24.89,-22.86 22.32,-22.93 22.01,-22.86ZM22.39,-1.64 22.14,-1.33 22.07,-1.01 22.07,1.24 22.14,1.55 22.57,1.99 23.20,1.99 23.51,1.74 23.70,1.36 24.01,-0.08 24.14,-0.20 27.32,-0.14 22.26,6.24 22.07,6.80 22.26,7.30 22.57,7.55 22.89,7.61 29.57,7.61 30.07,7.42 30.32,7.11 30.39,6.80 30.39,4.55 30.32,4.24 29.89,3.80 29.26,3.80 28.95,4.05 28.76,4.36 28.32,5.99 25.14,5.92 30.14,-0.39 30.39,-1.01 30.20,-1.51 29.89,-1.76 29.57,-1.83 22.89,-1.83ZM80.75,-23.56 80.38,-23.69 80,-23.56 79.31,-22.50 63.25,6.06 63.12,6.44 63.44,7 63.81,7.12 64.19,7 64.75,6.25 80.81,-22.31 81.06,-23ZM87.50,-19.94 87.19,-19.69 87.06,-19.31 87.38,-18.75 87.75,-18.62 89.62,-18.56 84.62,-1.06 84.44,-0.69 82,-0.62 81.62,-0.25 81.56,0 81.69,0.38 82.25,0.69 93.44,0.69 96.94,-0.19 97.50,-0.44 99.31,-2.25 100.44,-5.50 100.38,-7.69 99.44,-9.50 98.88,-10 100.12,-10.50 101.19,-11.56 102.25,-14.50 102.19,-16.88 101.31,-18.62 100.75,-19.12 98.12,-20ZM86.88,-0.75 89.38,-9.44 96.69,-9.44 97.25,-8.88 98.12,-7.19 98.12,-5.56 97.31,-3.19 95.62,-1.50 93.25,-0.69ZM91.94,-18.56 97.75,-18.62 99.12,-17.94 99.94,-16.44 99.94,-14.69 99.12,-12.31 98.38,-11.56 96.88,-10.81 89.81,-10.81 89.81,-11.19ZM116.44,-1 115.06,0.31 114.81,0.75 114.31,2.25 114.31,3.94 114.81,5.44 115.06,5.88 116.44,7.19 118.06,7.75 119.56,7.81 119.94,7.75 120.88,7.25 121,7.31 121,10.06 119.81,10.19 119.50,10.44 119.31,10.94 119.38,11.25 119.81,11.69 124.38,11.69 124.81,11.25 124.88,10.94 124.69,10.44 124.38,10.19 123.19,10.06 123.12,-1.12 122.88,-1.44 122.38,-1.62 121.50,-1.56 121,-1 119.94,-1.56 118.44,-1.62ZM118.62,0 119.38,0 120.25,0.44 121,1.19 121,5 120.25,5.75 119.38,6.19 118.62,6.19 117.88,5.81 116.94,4.88 116.50,3.62 116.50,2.50 116.88,1.38 117.94,0.31ZM107.81,-1.62 105.94,-1.06 104.50,0.25 104.25,0.62 103.69,2.25 103.69,3.94 104.25,5.56 105.56,7 105.94,7.25 107.44,7.75 108.94,7.81 110.81,7.25 111.12,7.06 112.50,5.62 112.56,5.31 112.38,4.81 112.06,4.56 111.44,4.56 110.19,5.75 108.88,6.19 108,6.19 107.25,5.81 106.31,4.88 105.88,3.44 112.06,3.31 112.50,2.88 112.56,1.44 112.50,1.06 111.94,-0.06 111,-1 109.88,-1.56ZM106.19,1.62 106.31,1.31 107.31,0.31 108,0 109.31,0 109.94,0.31 110.38,1.06 110.31,1.75 106.25,1.75ZM134.69,-23.69 134.19,-23.50 132.25,-21.56 130.50,-18.94 128.44,-14.75 127.56,-10.38 127.56,-6.19 128.56,-1.50 130.50,2.38 132.25,5 134.19,6.94 134.69,7.12 135.25,6.81 135.38,6.44 135.19,5.94 133.44,4.25 131.62,0.69 130.75,-1.94 129.88,-6.25 129.88,-10.25 130.75,-14.62 131.62,-17.25 133.31,-20.62 135.19,-22.50 135.38,-23 135.25,-23.38ZM144.62,-13.50 144.38,-13.38 142.38,-11.31 141.50,-9.56 141.50,-8.94 141.88,-8.56 142.38,-8.56 142.75,-8.88 143.44,-10.38 143.62,-10.56 145,-11.25 147.75,-11.25 151.44,-10.31 150.69,-9.56 143.69,-4.38 141.62,-2.31 140.56,-0.31 140.56,0.25 140.94,0.62 141.44,0.62 141.81,0.31 142.56,-1.12 143.88,-1.12 147.31,0.62 150.62,0.62 150.88,0.50 152.81,-1.44 153.88,-3.69 153.75,-4.06 153.44,-4.31 152.94,-4.31 152.50,-3.94 151.81,-2.50 151.62,-2.31 150.25,-1.62 147.56,-1.62 144.25,-2.50 144,-2.44 143.81,-2.56 144.50,-3.25 151.75,-8.62 153.81,-10.75 154.69,-12.50 154.69,-13.12 154.31,-13.50 153.81,-13.50 153.44,-13.19 152.69,-11.75 151.38,-11.75 147.94,-13.50ZM159.56,-23.69 159,-23.38 158.88,-23 159.06,-22.50 160.94,-20.62 162.62,-17.25 163.50,-14.62 164.38,-10.31 164.38,-6.25 163.50,-1.94 162.62,0.69 160.94,4.06 159.06,5.94 158.88,6.44 159,6.81 159.56,7.12 160.06,6.94 162.06,4.94 163.81,2.31 165.81,-1.81 166.69,-6.19 166.69,-10.38 165.69,-15.06 163.81,-18.88 162,-21.56 160.06,-23.50Z" fill="#000" fill-rule="evenodd"/>
<path transform="translate(55.7,600.2) rotate(-90)" d="M3.3,-31.3h16.2" stroke="#000" stroke-width="4" stroke-linecap="round" fill="none"/>
<defs><clipPath id="c1"><rect x="153.25" y="12.5" width="668.65" height="267.4"/></clipPath><clipPath id="c2"><rect x="153.25" y="382.05" width="668.65" height="267.35"/></clipPath></defs>
<g clip-path="url(#c1)">
<path d="M153,40.8 154.7,47.2 157,46.4 160.1,45.3 165,46.8 171,48.9 181.1,51.3 187.6,54.6 194.8,56.4 202.1,57.8 206.4,57.8 210,59.1 221.7,63.26 231.9,65.7 242.2,68.4 252.4,70.6 262.7,73.5 272.9,75.5 283.1,77.6 293.4,80.7 299.5,82.3 305.7,83.3 313.9,85.4 320,86.87 330.2,90.35 334.3,90.97 340.5,92.4 350.7,95.06 355,95.85 365.8,98 373.1,101.3 380.3,102.7 389,103.7 399.8,106.5 407,107.8 415,110 422.4,112 442.9,117.2 460,121.05 490,128 520,134.6 540,139.6 558.1,144.3 576.2,148.4 590.6,152.1 600,154.6 612.9,158 630,162.4 644.5,165.8 658.9,169.2 666.9,171.7 669.5,171.3 673.4,171.1 676.3,173 690,176.8 700,179.1 710.8,181.05 721.7,184.7 734.7,186.7 746.3,189.6 760,191.9 770,194.5 778.7,196.3 786.6,197.9 791.7,197.7 795.3,199.4 802.5,200.2 808.3,201.3 813.4,200.8 821.3,201.7 822.5,201.8" fill="none" stroke="#2200dd" stroke-width="1.5" stroke-linejoin="round" />
<path d="M389.22,104.42 L398.26,107.01M407.02,109.63 L416.1,112.04M424.62,114 L433.74,116.27M442.43,118.53 L451.56,120.76M459.82,122.72 L469,124.76M479.33,126.62 L488.41,129.05M496.13,132.13 L505.17,134.72M513.71,136.59 L522.83,138.86M531.53,141.08 L540.64,143.38M549.34,145.62 L558.47,147.86M567.37,149.92 L576.5,152.16M585.18,154.45 L594.32,156.64M603.2,158.6 L612.36,160.69M621.02,162.69 L630.18,164.79M639.08,166.63 L648.17,169.04M657.51,172.2 L666.59,174.65M674.86,176.55 L684.06,178.5M692.28,179.78 L701.46,181.82M702.53,182.6 L711.69,184.73M720.53,186.41 L729.74,188.3M738.37,190 L747.54,192.08M756.83,194.4 L765.95,196.69M774.21,199.04 L783.39,201.06M792.2,202.53 L801.46,204.13M811.04,205.65 L820.31,207.16" fill="none" stroke="#2200dd" stroke-width="6.4" stroke-linejoin="miter" stroke-miterlimit="3"/>
<rect x="372.7" y="98" width="7.6" height="8.7" rx="2.6" fill="#2200dd"/>
<path d="M153.07,201.63 155.12,203.68 157.17,204.09 159.22,205.73 161.27,199.58 163.31,201.63 165.36,199.99 167.41,200.6 169.46,199.58 171.51,199.99 173.56,201.22 175.6,192.41 177.04,190.98 178.68,193.03 180.73,196.51 182.77,199.58 184.82,202.65 187.89,207.36 189.94,203.68 191.99,198.56 194.04,194.46 196.09,193.03 198.14,193.84 200.18,195.48 202.23,190.36 204.28,186.88 206.33,187.29 208.38,189.75 210.43,194.46 212.47,196.51 214.52,197.53 216.57,199.58 218.62,201.63 220.67,200.6 222.72,199.99 224.76,200.6 226.81,203.68 228.86,205.73 230.91,201.63 233.98,196.1 236.03,199.58 238.08,203.68 240.54,199.58 242.59,201.63 245.25,209.82 247.3,213.51 249.34,211.87 251.39,212.28 253.44,210.85 255.49,211.46 257.54,208.8 259.59,206.75 261.63,205.73 263.68,206.13 265.73,207.77 267.78,210.85 269.83,214.94 271.88,216.99 273.92,215.97 275.97,218.02 278.02,216.99 280.07,219.04 282.12,221.09 284.17,222.11 286.21,218.02 288.26,221.09 290.31,225.18 292.36,221.09 294.41,218.02 296.46,216.99 298.5,219.04 300.55,218.02 302.6,219.65 304.04,216.99 305.67,215.97 306.7,221.09 308.75,223.14 310.79,226.21 312.23,229.9 313.87,225.18 315.92,224.16 317.55,223.14 318.37,214.94 319.6,214.33 320,214.34 321.02,224.58 323.07,222.53 325.12,218.44 327.17,219.46 329.22,218.03 331.27,222.53 333.31,226.63 335.36,227.65 337.41,229.7 339.46,226.63 341.51,219.46 343.56,217.41 346.63,216.39 348.27,223.56 350.32,221.51 352.36,223.56 354.82,226.63 356.87,225.6 358.92,227.65 360.97,229.7 363.02,232.77 365.06,231.75 367.11,231.75 369.16,235.85 371.21,240.97 373.26,237.89 375.31,237.89 377.35,239.94 379.4,243.02 381.45,241.99 383.5,245.06 385.55,248.14 387.6,247.11 389.64,244.04 391.69,249.16 393.74,247.11 395.79,251.21 397.84,254.28 400.91,253.26 402.96,245.06 405.01,244.04 407.05,246.09 409.1,244.04 411.15,241.99 413.2,240.97 415.25,241.99 417.3,248.14 419.34,252.23 421.39,253.26 423.44,251.21 425.49,250.18 427.54,248.14 430.61,247.73 432.66,250.18 434.71,253.26 436.76,256.33 438.8,253.26 440.85,252.23 442.9,249.16 444.95,239.94 447,247.11 449.05,252.23 451.09,250.18 453.14,248.14 455.19,249.16 457.24,251.21 459.29,250.18 461.34,249.16 463.38,248.14 465.43,247.11 467.48,253.26 469.53,257.35 471.58,258.38 473.63,255.31 475.67,252.23 477.72,251.21 479.77,249.16 481.82,247.52 483.87,248.14 485.92,252.23 487.96,257.35 489.6,259.4 490,259.4 492.05,261.45 494.1,258.38 496.15,257.35 498.19,256.33 500.24,263.5 501.27,256.33 503.31,261.45 505.36,264.52 507.41,261.45 509.46,263.5 511.51,268.62 513.56,266.57 515.6,267.6 517.65,264.52 519.7,261.45 521.75,259.4 523.8,257.35 525.85,256.94 527.89,259.4 529.94,261.45 531.99,262.47 534.04,263.5 536.09,259.4 538.14,258.38 539.16,262.47 541.21,260.43 543.26,256.33 545.31,256.33 547.35,254.9 549.4,253.87 551.45,253.67 553.5,254.28 555.55,255.71 557.6,257.35 559.64,259.4 561.69,260.43 563.74,261.45 565.79,261.04 567.84,262.47 569.89,264.52 571.93,265.96 573.98,264.52 576.03,260.43 578.08,256.33 580.13,252.23 582.18,249.16 584.22,246.09 586.27,245.06 588.32,246.09 590.37,247.11 592.42,246.09 594.47,246.7 596.51,244.04 598.56,241.99 600.61,240.97 602.66,239.94 604.71,239.94 606.76,240.56 608.8,240.97 610.85,239.94 612.9,237.89 614.95,236.87 617,236.46 619.05,234.82 621.09,232.36 623.14,231.13 625.19,230.73 627.24,230.73 629.29,231.13 631.34,230.73 633.38,229.7 635.43,228.27 637.48,227.65 639.53,228.68 641.58,230.32 643.63,229.91 645.67,229.7 647.72,229.29 649.77,228.68 651.82,227.65 653.87,225.6 655.92,223.56 657.96,222.53 659.6,222.12 660,223.02 666.15,221.99 672.29,220.56 678.44,218.92 684.58,216.87 690.73,215.23 696.87,214.41 703.02,214.41 709.16,216.87 715.31,218.51 721.45,217.89 727.6,218.51 733.74,217.89 741.93,217.89 748.08,219.94 754.22,221.99 760.37,221.99 766.51,223.42 772.66,225.06 778.8,224.04 782.9,226.09 787,227.52 793.14,228.75 794.17,224.04 800.31,224.04 801.34,228.75 807.48,228.75 813.63,227.52 821.82,227.11" fill="none" stroke="#ff3300" stroke-width="1.5" stroke-linejoin="round" />
<path d="M373.84,250.92 L377.24,252.34 L381.69,252.95M384.32,247.27 L388.58,251.61 L392.92,252.03M396.36,256.48 L400.74,252.79 L404.23,249.11M409.76,242.62 L413.92,243.18 L417.87,241.75M419.42,250.83 L423.9,252.54 L427.46,256.31M434.03,254.48 L438.3,252.22 L441.52,249.18M441.71,243.6 L445.9,242.05 L450.24,243.47M453.18,259.3 L456.93,259.95 L460.48,261.63M462.3,255.4 L467.05,255.25 L470.61,254.15M476.59,257.15 L480.88,256.54 L485,258.6M490.51,264.33 L493.57,262.81 L497.68,262.99M504.72,264.7 L508.02,263.65 L512.15,262.43M514.76,263.12 L518.13,265.78 L522.59,266.12M528.19,267.76 L532.59,265.55 L535.8,265.24M543.45,262.34 L546.83,262.07 L550.44,262.53M558.08,262.6 L562.24,260.22 L565.31,260.74M574.26,258.71 L581.9,253.95M585.26,246.64 L592.61,241.44M600.59,239.3 L608.83,235.67M617.27,231.24 L625.73,228.16M634.13,226.26 L642.88,224.13M652.48,221.68 L661.4,220.52M669.86,221.02 L678.81,220.09M687.27,217.9 L696.23,217.06M702.62,217.29 L711.61,217.68M721.06,218.61 L730.04,219.23M738.49,219.38 L747.42,220.5M756.99,222.52 L765.8,224.33M775.46,226.44 L784.2,228.61M792.35,231.82 L801.31,232.64M811.19,231.14 L820.16,230.46" fill="none" stroke="#ff3300" stroke-width="6.0" stroke-linejoin="miter" stroke-miterlimit="3"/>
<path d="M153.07,19.22 154.51,30.48 155.74,28.03 156.76,32.12 157.78,28.84 159.22,34.17 160.65,27.41 161.88,25.36 163.31,23.93 165.36,19.83 167.41,19.63 169.46,22.29 171.51,24.75 172.94,26.8 174.58,29.87 176.63,28.84 178.68,30.07 180.73,29.46 182.77,27.41 183.8,30.48 184.82,25.36 186.87,24.75 188.92,26.39 190.97,29.46 193.02,31.51 195.06,32.53 197.11,32.12 199.16,38.68 201.21,37.24 203.26,37.65 205.31,35.6 207.35,37.65 209.4,36.22 211.45,40.73 213.5,40.32 215.55,38.68 217.6,36.63 219.64,35.6 221.69,35.6 223.74,38.68 225.79,36.63 227.84,37.04 229.89,34.99 231.52,35.6 233.57,47.28 236.03,41.75 238.08,40.73 240.13,41.75 242.18,38.68 244.22,37.65 245.86,35.6 247.3,40.73 249.96,50.97 252.01,46.87 254.47,46.46 256.51,48.92 258.56,50.97 260.61,49.94 262.66,50.97 264.71,49.94 266.76,51.99 268.8,54.04 270.85,58.14 272.9,55.06 274.95,55.47 277,54.04 279.05,56.09 281.09,54.04 283.14,56.09 285.19,51.99 286.83,50.97 288.88,59.16 291.34,58.14 293.38,59.16 295.43,61.21 297.48,60.18 299.53,64.28 301.58,55.06 303.63,47.48 305.26,50.97 306.7,66.33 308.75,62.85 310.79,63.67 312.84,61.21 314.89,66.33 316.94,68.38 318.37,70.43 319.6,63.67 321.64,70.48 323.07,65.98 325.12,70.48 327.17,64.75 329.22,63.31 331.27,65.36 333.93,73.56 336.39,68.03 338.44,69.46 340.48,68.84 342.53,75.6 344.58,71.51 346.63,76.22 348.68,74.58 350.73,75.6 352.77,71.1 354.82,74.58 356.87,76.63 358.92,80.73 360.97,78.68 363.02,74.58 365.06,70.48 367.11,69.46 369.16,82.77 371.21,80.73 373.26,84.82 373.95,76.5 375.57,79.3 377.21,81.21 378.81,82.97 380.52,85.21 381.81,84.99 383.21,86.97 384.76,82.98 387.26,88.69 388.51,85.21 389.67,88.15 391.18,85.34 392.9,84.54 394.77,84.41 396.34,84.64 398.13,80.79 399.6,82.06 400.99,81.73 403.28,88.49 404.6,86.16 405.82,88.07 407.19,91.1 409.46,87.36 410.69,93.57 412.84,92.14 413.72,92.85 415.99,87.16 417.1,93.32 418.39,89.49 420.18,88.95 421.6,88.51 423.85,95.15 424.83,90.29 426.38,90.87 428.69,91.07 429.95,92.24 431.3,89.82 433.34,89.43 434.43,90.87 436.18,94.34 438.45,95.84 439.97,94.88 440.92,94.19 442.94,100.51 444.02,100.27 445.77,98.19 447.86,96.15 448.79,97.09 450.41,92.99 452.5,93.95 453.88,90.65 455.58,97.76 457.27,97.94 458.47,96.95 460.79,99.04 461.7,97.43 463.83,100.45 465.63,99.13 467.17,98.35 468.02,100.14 469.56,104.98 471.8,105.33 472.97,109.01 474.6,106.16 476.09,108.7 477.74,108.36 479.66,111.03 480.99,105.76 483.2,106.48 484.18,105.12 485.95,104.44 487.47,104.16 489.27,105.41 491.18,106.4 492.86,104.65 494.08,105.12 495.25,109.38 497.59,110.07 498.99,111.19 500.53,111.49 501.98,112.17 504.08,111.45 504.79,110.85 507.18,113.85 508.63,114.57 510.4,112.98 511.46,115.34 513.56,113.7 514.72,119.25 516.47,114.98 518.12,117.49 519.7,121.6 520.8,115.96 523.16,115.35 524.62,117.93 526.08,122.72 527.54,120.92 529.44,119.24 530.35,117.57 532.14,117.52 534.19,117.39 536,119.44 536.97,116.83 538.97,113.56 540.11,118.18 542.15,124.6 543.54,125.58 545.36,121.74 546.51,119.99 548.8,125.33 550.37,122.36 551.42,126.62 552.85,121.45 555.13,125.74 556.6,127.59 557.68,125.96 559.55,126.64 561.12,128.44 562.92,125.52 564.73,127.53 566.46,126.91 567.15,128.1 569.56,130.7 570.87,128.21 572.22,127.24 573.65,126.51 575.56,131.94 576.95,130.13 578.46,133.58 580.35,132.99 582.12,131.2 584.04,131.3 585.38,136.08 586.49,133.12 587.93,126.19 589.69,124.82 591.38,126.45 593.22,132.56 594.91,134.74 596.68,133.99 598.39,134.11 599.81,128.24 600.84,125.85 603.19,127.35 604.28,127.12 606.28,131 608.03,131.23 608.92,135.85 611.01,136.92 612.61,133.66 613.72,141.34 616.06,133.7 617.24,137.18 619.19,134.77 620.74,135.72 621.94,135.86 623.65,133.85 624.75,129.71 627.1,138.24 628.09,139.28 629.84,141.07 631.26,142.32 633.22,143.56 634.98,141.21 636.83,140.91 637.6,146.56 639.33,144.7 641.42,146.05 642.93,142.52 644.46,145.52 645.82,142.7 647.98,147.63 648.92,147.58 650.82,140.05 652.47,145.05 654,146.67 655.7,149.52 657.22,145.25 658.7,145.57 660.39,142.65 662.18,146.31 663.52,143.96 665.64,143.3 666.77,141.84 668.04,142.41 670.38,150.46 671.58,149.83 673.31,152.62 675.21,154.89 675.94,156.08 677.71,153.45 679.43,155.5 681.06,151.26 683.02,150.66 684.04,148.59 685.71,148.81 687.63,147.78 689.12,152.19 690.83,154.03 692.53,156.31 694.13,150.75 695.71,152.53 697.54,152.27 699.1,153.85 700.79,150.77 702.41,154.13 703.33,157.79 704.85,154.65 706.55,155.8 708.01,155.83 710.32,155.58 711.24,161.22 713.11,158.8 714.51,158.01 716.58,162.22 717.63,154.38 719.61,156.95 721.38,156.07 722.5,160.88 723.96,162.03 726.05,160.27 727.26,162.87 728.9,164.48 731.27,167.32 732.81,164.86 734.43,165.74 735.56,166.57 737.17,165.7 738.81,165.12 739.93,168.19 742.19,167.21 743.56,164.92 745.43,164.35 746.48,165.65 748.41,168.58 750.29,164.25 751.8,166.71 753.11,163.94 754.9,160.02 756.69,162.36 757.77,162.12 759.87,155.24 761.5,155.69 763.16,163.85 764.59,164.07 765.91,161.95 767.81,168.58 769.17,169.32 770.33,168.28 772.52,173.09 773.74,174.42 775.44,171.43 777.35,170.95 778.69,172.74 780.88,172.43 782.25,172.56 784.06,178.32 785.43,176.51 786.57,175.79 788.11,176.89 789.88,177.96 791.99,177.8 793.25,171.92 794.87,177.68 796.88,176.38 797.59,176.76 799.69,180.22 801.61,179.58 802.47,178.99 804.4,180.4 806.11,184.3 807.52,180.47 809.23,176.11 810.59,175.51 812.55,174.85 814.21,176.29 815.4,178.92 816.76,178.09 818.47,176.31 820.78,171.46" fill="none" stroke="#000" stroke-width="1.5" stroke-linejoin="round" />
<path d="M375.09,80.49 376.52,76.85 377.57,83.03 378.58,83.17 380.12,81.16 380.72,80.97 382.18,85.92 383.45,89.1 384.25,86.28 386.1,87.91 387.19,88.34 387.94,89.76 389.48,85.95 390.87,85.6 391.59,86.63 393.27,91.81 394.05,87.28 395.53,82.91 396.39,86.95 398.14,81.34 399.28,82.32 399.96,85.71 401.14,85.68 402.67,85.34 403.44,84.63 404.86,84.74 406.43,85.82 407.39,89.54 408.75,96.82 409.46,93.28 411.18,91.68 412.41,91.59 413.3,92.29 414.27,92.75 415.57,94.27 417.18,91.84 418.51,94.25 419.3,90.87 420.62,91.62 421.98,89.89 423.21,91.27 424.52,89.97 425.11,88.29 426.9,92.95 427.68,92.84 428.86,88.45 430.07,90.4 431.15,90.88 432.74,91.49 433.47,91.05 435.35,89.69 436.01,92.93 437.47,96.01 438.54,93.34 439.48,97.17 441,96.85 442.44,100.66 443.72,101.47 444.69,99.28 445.75,97.25 446.75,98.67 448.17,94.65 449.76,99.71 450.57,88.77 451.79,94.01 452.85,92.05 454.13,97.12 455.75,98.21 456.93,94.66 457.68,95.2 458.7,97.36 460.46,102.86 461.3,99.67 462.74,94.59 463.92,99.41 465.15,97.1 466.04,95.43 467.54,100.56 468.45,105.22 469.86,102.01 470.65,102.99 472.32,105.9 473.37,109.6 474.81,105.11 475.69,106.11 477.24,105.59 478.09,112.03 479.54,104.96 480.94,111.6 481.82,106.52 482.76,109.34 484.18,99.74 485.54,102.98 486.36,99.3 488,100.39 488.94,102.2 490.29,105.08 491.56,101.85 492.26,108.01 493.91,109.87 494.8,107.07 495.87,106.11 497.38,110.22 498.34,111.54 499.67,112 500.67,113.44 502.18,109.87 503.46,115.53 504.41,113.76 505.73,114.23 506.84,113.8 508.44,116.18 509.31,119.58 510.31,117.48 511.83,115.3 513.33,120.47 514.43,113.86 515.5,120.79 516.51,121.12 517.85,122.1 519.33,123.23 520.09,119.18 521.68,121.28 522.65,120.2 523.88,122.66 525.28,123.32 526.11,118.95 527.25,121.32 528.94,115.32 530.1,124.29 531.07,118.9 532.2,126.25 533.34,116.1 534.59,127.85 535.65,121.54 537.09,124.85 538.16,125.24 539.64,132.07 540.25,124.66 542.11,125.27 543.2,124.75 543.95,125.75 545.75,121.85 546.58,126.63 547.9,120.2 548.73,121.4 550.39,123.4 551.28,127.85 552.45,122.26 553.7,124.87 555.18,125.11 556.02,125.63 557.37,131.02 558.63,123.89 559.45,127.38 561.05,124.34 562.35,125.18 563.7,125.14 564.52,123.54 565.58,130.83 566.85,128.25 568.44,126.99 569.54,125.69 570.8,128.31 572.1,129.09 573.04,129.35 574.2,126.32 575.46,129.36 576.82,130.76 578.03,130.84 579.21,130.75 580.36,131.53 581.74,136.88 582.28,133.6 584.05,135.16 585.33,138.92 586.35,137.47 587.7,136.3 588.35,131.11 589.56,129.96 591.09,132.69 592.11,132.83 593.09,136.68 594.77,135.7 596.07,137.33 596.87,137.67 598.27,128.27 599.31,133.6 600.28,131.52 601.89,129.39 603,133.02 604.29,129.46 605.23,130.34 606.78,132.59 607.81,135.49 608.91,136.54 610.37,137.29 611.51,139.64 612.3,135.77 613.53,135.74 615.07,137.48 616.19,142.21 617.27,136.89 618.76,135.89 619.48,140.04 621.13,141.31 622,140.18 623.52,138.43 624.83,134.91 625.7,135.91 626.81,133.52 628.09,140.61 629.32,142.92 630.71,145.62 632.02,138.85 633.01,146.15 634.27,140.86 635.32,143.39 636.31,147.6 637.47,146.69 639.28,141.97 639.84,146.85 641.38,149.11 642.55,144.02 643.78,147.49 644.75,146.76 646.11,141.44 647.15,148.6 648.42,144.41 649.65,145.8 650.81,143.63 652.51,144.37 653.31,147.98 654.73,142.81 655.78,145.55 657.12,143.89 658.05,142.54 659.16,141.32 660.38,146.82 661.5,144.46 662.93,145.8 664.06,142.15 665.38,140.89 666.76,146.31 667.56,144.81 669.32,150.85 670.31,142.96 671.04,153.22 672.28,151.52 673.47,149.2 675.03,155.77 676.09,153.23 677.11,158.24 678.59,155.23 680.11,154.25 680.68,152.66 682.13,153.47 683.33,151.59 684.46,150.64 686.14,149.28 686.77,146.23 688.22,150.13 689.1,151.18 690.63,154.21 692.1,150.29 692.79,152.45 693.85,151.51 695.45,152.68 696.51,149.46 698.1,148.46 698.86,145.92 700,152.87 701.12,151.72 702.8,153.97 704.03,153.21 704.7,155.8 706.02,157.9 707.46,157.92 708.42,161.27 709.47,160.05 710.78,158.96 711.91,161.78 713.34,157.18 714.64,162.43 716.09,155.49 717.05,153.91 718.16,158.63 719.73,153.16 720.76,157.21 722.02,157.07 722.92,160.88 723.96,162.13 725.23,161.67 726.29,161.04 727.99,162.57 728.68,163.13 729.93,160.34 731.72,167.78 732.68,164.73 733.7,167.94 734.88,169.44 736.44,167.07 737.56,170.24 738.36,169.44 739.95,161.45 741.21,168.88 741.93,164.08 743.37,171.31 744.55,161.5 746.11,166.84 747.02,168.28 747.91,163.78 749.63,163.29 750.94,164.57 751.46,162.41 753.27,164.57 754.12,167.3 755.18,166.56 756.64,159.42 757.61,163.11 758.89,157.4 760.44,165.22 761.65,157.57 762.34,159.41 764.04,162.15 764.76,164.38 765.91,164.41 767.18,161.27 768.81,166.16 770.06,172.65 771.09,170.92 771.85,168.34 773.41,169.92 774.52,171.08 775.67,174.75 776.92,173.49 778.18,172.8 779.75,171.49 780.83,178 781.92,173.07 783.03,176.1 784.27,173.45 785.53,174.04 786.3,176 787.5,174.33 789.19,179.29 790.35,174.65 791.24,182.5 792.76,180.96 793.92,179.34 795.33,181.21 796.44,176.25 797.57,177.88 798.61,178.7 800.09,180.67 801.03,187.22 802.12,182.77 803.17,180.23 804.71,184.79 805.88,176.57 806.92,182.22 808.24,180.85 809.55,173.73 810.39,180.6 811.66,175.76 813.29,180.17 813.96,173.98 815.2,174.08 816.29,173.28 818.07,176.03 819.16,173.53 820.22,175.17 821.69,171.02" fill="none" stroke="#000" stroke-width="5.2" stroke-dasharray="9.4 8.7" stroke-linejoin="miter" stroke-miterlimit="3"/>
</g>
<g clip-path="url(#c2)">
<path d="M153.07,639.52 154.51,634.81 156.55,636.04 158.6,639.52 160.65,633.38 161.88,631.33 163.31,633.38 165.36,630.71 167.41,630.31 169.46,628.67 171.51,628.26 173.56,629.9 175.6,618.02 177.04,616.38 179.09,619.04 181.75,623.14 184.82,627.23 187.89,631.33 189.94,625.18 191.99,619.04 194.04,612.89 196.09,610.85 198.14,610.23 200.18,613.51 202.23,605.73 204.28,601.22 206.33,601.63 208.38,603.68 210.43,608.8 211.45,611.46 213.91,612.28 216.57,613.51 218.62,615.56 220.67,612.89 222.72,611.87 224.76,611.87 226.81,614.94 228.86,617.61 230.91,610.85 233.98,603.27 235.62,605.73 238.08,612.28 240.13,606.75 241.77,605.73 243.2,608.8 245.25,615.97 247.91,620.06 250.37,618.02 252.42,617.61 254.47,617.61 256.51,614.94 258.56,610.85 260.61,607.36 262.66,606.13 264.71,606.75 266.76,608.8 268.8,611.87 270.85,616.99 272.9,617.61 274.95,615.56 277,615.56 279.05,618.02 281.09,621.09 283.14,619.04 285.19,613.51 287.24,616.99 290.31,622.11 292.36,618.02 294.41,612.89 295.84,610.23 297.89,611.87 299.53,610.23 301.58,611.46 303.63,607.77 305.26,606.13 306.7,611.87 308.75,614.94 310.79,618.42 312.23,621.09 313.87,614.94 315.92,611.87 317.55,612.89 318.37,600.6 319.6,599.99 320,600.73 321.02,611.99 323.07,608.92 325.12,602.77 327.17,603.8 329.22,601.75 331.27,607.89 333.31,611.99 335.36,611.99 337.41,614.04 339.46,609.94 341.51,600.73 343.56,596.63 346.63,594.58 348.27,602.77 350.32,600.32 352.36,601.75 354.82,604.82 356.87,603.8 358.92,604.82 360.97,606.87 363.02,608.92 365.06,607.28 367.11,606.87 369.16,610.97 371.21,616.09 373.26,609.94 375.31,608.92 377.35,610.97 379.4,614.04 381.45,613.02 383.5,617.11 385.55,620.18 387.6,618.14 389.64,614.04 391.69,618.14 393.74,616.09 395.79,620.18 397.84,623.67 400.91,622.85 402.96,614.04 405.01,611.99 407.05,613.42 409.1,610.97 411.15,609.33 413.2,607.89 415.25,608.92 417.3,615.06 419.34,619.16 421.39,619.16 423.44,616.09 425.49,614.04 427.54,611.99 430.61,610.97 432.66,613.02 434.71,615.47 436.76,618.14 438.8,614.04 440.85,611.99 442.9,608.92 444.95,601.75 447,605.85 449.05,608.92 451.09,605.85 453.14,602.77 455.19,602.77 457.24,604.82 459.29,603.8 461.34,602.77 463.38,601.13 465.43,600.73 467.48,604.82 469.53,607.89 471.58,607.89 473.63,603.8 475.67,599.7 477.72,598.68 479.77,595.6 481.82,591.51 483.87,591.1 485.92,595.6 487.96,601.75 489.6,603.8 490,603.8 492.05,607.9 494.1,604.83 496.15,601.76 498.19,598.68 500.24,607.9 501.27,599.71 503.31,604.83 505.36,606.88 507.41,603.8 509.46,605.85 511.51,610.36 513.56,606.88 515.6,605.85 517.65,601.76 519.7,597.66 521.75,594.59 523.8,591.51 525.85,590.49 527.89,592.54 529.94,594.59 531.99,595.61 534.04,596.63 536.09,591.51 538.14,590.49 539.16,595.61 541.21,592.54 543.26,587.42 545.31,585.37 547.35,583.32 549.4,580.86 551.45,579.63 553.5,580.25 555.55,581.68 557.6,582.91 559.64,584.34 561.69,584.34 563.74,585.37 565.79,584.34 567.84,586.39 569.89,582.91 571.93,588.44 573.98,585.37 576.03,580.25 578.08,575.13 580.13,571.03 582.18,566.93 584.22,563.86 586.27,561.81 588.32,556.69 590.37,555.67 592.42,558.74 594.47,556.69 596.51,553.62 598.56,550.55 600.61,548.91 602.66,547.47 604.71,545.43 606.76,544.81 608.8,546.04 610.85,543.38 612.9,544.4 614.95,541.33 617,538.26 619.05,536.21 621.09,534.16 623.14,532.11 625.19,530.47 627.24,529.04 629.29,527.61 631.34,526.99 633.38,525.97 635.43,523.92 637.48,521.87 639.53,519.82 640.55,522.89 642.6,521.87 644.65,521.46 646.7,520.85 648.75,518.8 650.79,517.77 652.84,516.75 654.89,513.68 656.94,510.6 658.99,508.56 660,508.26 666.15,505.18 672.29,503.14 675.36,501.09 678.44,498.02 684.58,494.94 690.73,492.89 696.87,489.82 703.02,487.77 709.16,486.75 711.21,490.85 715.31,487.77 721.45,485.32 727.6,484.7 730.67,484.09 735.79,481.63 741.93,480.6 748.08,481.22 754.22,480.6 760.37,480.6 766.51,479.58 772.66,480.6 778.8,479.99 784.95,478.56 791.09,479.58 793.14,481.22 795.19,474.46 801.34,473.84 803.38,477.94 809.53,477.12 815.67,475.89 821.82,475.48" fill="none" stroke="#ff3300" stroke-width="1.5" stroke-linejoin="round" />
<path d="M373.02,628.42 L376.33,627.05 L379.64,626.87M382.21,627.39 L385.4,622.66 L388.89,621.04M394.71,624.31 L397.78,621.09 L401.78,617.7M404.39,615.75 L408.37,614.03 L411.76,610.85M414.19,604.27 L417.42,606.37 L421.63,609.29M425.06,611.11 L429.03,611.29 L432.06,612.67M435.48,608.26 L438.71,601.3 L442.13,597.6M442.09,596.15 L446.45,594.06 L449.85,593.88M452.9,606.65 L455.72,608.76 L459.53,611.98M460.47,603.91 L463.92,602.76 L468.35,599.38M473.96,598.46 L477.38,597.48 L480.67,599.14M484.69,605.09 L488.53,603.57 L493.29,605.11M498.95,600.35 L502.13,599.77 L505.63,598M508.88,605.15 L512.97,603 L516.18,599.77M517.87,594.42 L521.17,592.42 L525.62,591.88M530.3,598.71 L533.83,595.2 L537.78,592.76M545.05,584.27 L548.71,585.68 L551.7,585.23M558.68,584.2 L562.63,580.24 L566.75,576.23M572.99,576.4 L579.07,569.76M582.49,559.22 L588.01,552.12M594.16,548.4 L600.92,542.45M607.48,536.12 L614.22,530.15M620.46,524.42 L627.87,519.32M636.61,514.82 L644.5,510.49M651.79,506.25 L660.04,502.67M667.7,500.72 L676.06,497.36M684.07,493.09 L692.46,489.83M701.72,486.81 L710.46,484.65M721.12,483.03 L729.98,481.46M738.49,479.68 L747.43,478.66M756.9,478.4 L765.89,477.89M774.3,477.2 L783.3,477.04M792.34,477.79 L801.32,477.28M810.19,475.69 L819.11,474.46" fill="none" stroke="#ff3300" stroke-width="6.0" stroke-linejoin="miter" stroke-miterlimit="3"/>
<path d="M153.5,421.57 155.89,425.49 157.03,425.9 159.36,427.25 160.44,425.18 162.13,417.73 164.24,414.32 166.41,412.86 167.18,413.91 169.2,413.14 170.69,414.8 173.16,418.1 174.1,419.92 176.15,420.47 178.26,419.27 179.2,417.67 181.54,417.3 183.14,414.26 184.98,412.05 186.6,411.08 188.23,411.14 189.41,412.54 190.93,413.58 192.99,415.81 194.95,416.81 196.99,415.53 198.7,419.08 199.57,418.02 201.73,417.3 202.89,417.85 204.69,418.89 206.9,417.1 207.99,415.88 210.25,419.47 212.3,419.52 213.81,419.61 215.14,418.17 216.51,415.45 218.19,414.91 219.99,412.2 221.83,412.72 223.68,411.61 225.4,412.16 226.97,410.51 228.91,410.2 230.1,410.37 231.83,411.53 234.38,416.59 235.87,418.85 237.79,414.91 238.85,412.63 240.48,411.01 242.07,409.87 244.47,407.41 245.34,404.27 247.19,409.14 249.53,416.1 250.85,421.91 252.8,415.32 254.2,416.82 256.02,417.05 257.92,416.47 259.37,417.7 261.39,417.84 263.05,418.85 264.58,417.44 265.86,418.14 267.82,417.85 269.23,421.59 271.22,422.86 273.22,418.73 274.98,418.69 276.64,418.66 278.22,418.61 280.2,418.64 281.82,418.64 283.06,415.61 284.78,415.29 286.29,411.33 288.5,417.63 289.87,418.65 291.44,419.1 293.53,415.96 295.54,419.57 296.57,417.98 298.48,419.1 300.07,417.45 301.47,410.99 303.55,406.1 304.78,403.73 306.95,415.98 308.98,417.83 310.23,413.48 312.04,418.2 313.4,418.9 314.84,423.01 317.11,422.75 319.05,417.92 320.84,416.16 321.71,419.22 323.35,420.97 325.21,416.77 327.6,414.79 328.72,412.32 330.34,415.51 332.33,419.1 333.8,420.73 335.3,419.18 336.92,418.27 339.16,414.18 340.42,418.98 342.31,422.54 343.75,420.72 345.59,421.04 347.76,418.97 349.16,420.79 351.04,418.93 352.26,416.32 354.38,415.12 355.7,421.65 358.18,425.69 359.44,422.07 361.01,421.34 362.56,415.22 364.59,413.96 365.88,412.31 368.1,416.42 369.62,420.46 371.41,419.08 373.57,421.82 373.66,418.82 375.68,418.66 377.11,420.69 379.11,416.27 380.81,419.98 382.37,421.37 384.29,424.1 385.63,421.59 387.33,424.61 389.54,419.58 391.38,418.26 392.53,419.14 394.4,423.22 395.97,423.54 397.45,420.97 399.94,419.6 401.15,418.68 402.88,419.71 404.28,423.73 406.03,421.78 408.29,422.54 410.1,425.96 411.66,422.8 413.33,421.37 414.41,421.36 416.2,425.32 418.63,424.71 419.76,420.97 421.55,416.71 423.18,423.65 424.52,422.92 427.2,422.78 428.4,419.92 430.35,422.61 431.52,421.49 433.63,422.35 434.87,424.69 437.34,425.06 438.44,422.43 439.9,422.55 441.56,424.21 443.57,420.26 445.59,420.85 447.57,418.91 448.71,425.61 450.59,420.84 452.59,419.69 453.64,421.76 455.98,422.41 457.61,423.04 459.28,419.91 460.24,422.98 462.15,421.82 463.76,423.43 465.36,419.59 467.99,423.88 469.45,419.47 471.37,420.56 472.63,420.06 474.01,419.65 476.35,421.17 477.8,417.28 479.32,417.95 480.9,419.36 482.84,419.87 484,421.88 486.39,418.38 488,416.81 489.75,419.78 491.05,418.3 492.9,424.78 494.33,421.94 495.99,424.43 498.05,424.89 499.43,426.83 501.12,424.1 503.24,425.51 504.61,428.5 506.26,427.95 508.51,429.23 510.05,430.37 512.08,428.11 513.68,426.87 515.06,426.06 516.35,425.83 518.72,424.27 519.95,424.32 521.43,422.98 523.49,423.06 525.09,428.08 527,421.74 528.29,424.83 530.5,422 532.58,422.77 533.61,420.6 535.56,420.86 536.75,426.5 538.75,422.77 540.41,426.67 541.87,424.46 543.56,424.14 545.65,419.37 547.52,423.58 549.04,421.01 550.82,418.91 552.22,422.38 553.74,422.51 556.11,426.36 557.92,427.84 559.03,425.54 560.88,424.18 563.17,425.77 563.98,422.89 566.32,424.33 568.2,424.79 569.76,422.45 571.37,426.51 573.09,422.5 574.34,424.65 576.42,421.36 578.33,425.71 579.2,420.89 581.21,422.44 582.74,425.58 584.85,426.36 586.95,426.74 588.45,425.34 590.37,426.27 591.81,426.48 593.44,427.48 595.19,425.11 596.52,427.03 598.15,421.36 600.28,417.81 601.49,417.83 603.38,419.56 605.65,420.04 607.02,423.34 608.38,423.43 610.07,423.83 611.68,422.55 614.02,421.99 615.84,422.22 617.1,422.22 618.33,420.79 620.24,421.38 621.7,421.91 623.71,421.77 625.55,422.54 626.93,419.74 629.3,420.91 630.24,418.53 632.08,419.06 633.82,422.31 636.11,423.59 637.89,418.95 638.71,420.99 641.31,420.81 642.85,420.77 643.85,419.25 646.32,418.11 647.67,418.05 649.71,418.34 650.95,419.67 652.59,415.81 654.06,415.27 655.76,414.71 657.58,416.37 659.37,416.39 661.29,416.17 663.18,415.68 664.3,415.66 666.84,415.05 668.29,416.47 670.03,417.84 671.83,420.08 672.91,422.71 674.93,422.21 676.73,423.56 678.29,425.21 679.66,425 682.11,421.22 683.58,424.41 685.51,426.24 686.83,425.38 688.39,417.81 690.65,421.04 691.4,416.6 693.45,415.76 695.56,415.7 697.15,418.73 698.74,418.64 700.79,415.74 702.16,419.95 704.08,415.36 705.36,413.32 706.77,416.86 708.94,419.32 710.92,418.61 711.82,420.09 713.92,419.4 715.87,419.63 717.11,422.11 719.12,420.96 721.2,417.29 722.23,418.09 724.12,416.84 726.16,416.88 727.75,419.4 729.18,421.55 730.99,419.92 732.66,422.3 733.93,421.48 736.41,418.84 738.04,420.35 739.37,415.37 741.09,422.21 742.98,419.33 744.68,419.67 746.02,417.74 748.24,417.61 749.25,414.36 751.27,417.67 753.06,416.4 754.69,416.46 756.7,413.56 758.57,412.3 759.65,407.91 761.89,410.27 762.99,406.6 765.35,411.67 766.5,412.18 768.54,415.84 769.86,417.82 771.99,415.82 773.2,417.64 775.2,416.74 777.09,416.33 778.43,416.94 779.99,416.47 781.63,419.8 783.61,418.16 785.02,418.78 786.61,415.29 789.03,415.66 790.5,416.34 792.67,415.92 794.04,419.35 795.46,416.42 797.44,420.36 798.96,417.24 801,418.48 801.91,417.7 803.82,417.45 805.89,418.03 807.49,418.06 808.86,418.62 810.72,416.62 812.31,418.02 813.94,415.93 816.13,414.86 817.3,411.87 819.44,411.48 821.37,408.79" fill="none" stroke="#000" stroke-width="1.35" stroke-linejoin="round" stroke-dasharray="1.2 2.8"/>
<path d="M374.88,418.13 375.82,418.23 377.22,413.33 378.3,413.55 379.09,420.01 380.23,429.4 381.55,427.07 382.52,422.62 383.88,425.27 384.83,420.5 386.31,426.48 386.96,422.63 387.97,423.44 389.51,424.66 390.19,421.11 391.42,423.96 392.63,423.93 393.51,419.76 394.92,413.74 395.96,416.88 396.97,414.37 398.23,420.42 399.03,412.9 400.55,414.36 401.55,414.06 402.25,423.57 403.55,417.03 404.69,416.14 405.5,416.17 406.95,415.16 408.25,418.27 409.16,424.46 410.25,416.38 411.59,423.49 412.38,422.33 413.63,422.74 414.7,428.3 415.56,420.87 416.72,418.6 417.87,416.18 418.78,416.43 420.28,416.18 420.96,415.41 422.55,417.87 423.12,411.76 424.75,415.93 425.81,417.39 426.64,415.41 427.71,423.23 428.67,414.12 429.79,417.94 431.09,418.76 432.26,415.87 433.25,415.21 434.31,407.95 435.63,411.23 436.61,411.12 437.41,411.57 439.06,415.51 440.1,409.26 440.93,414.03 442.19,417.44 442.91,420.03 444.08,420.75 445.29,420.27 446.27,418.4 447.34,416.15 448.95,415.18 449.88,414.11 450.8,412.7 451.91,415.17 453.43,415.89 454.18,411.92 455.04,413.8 456.3,412.12 457.28,416.54 458.29,413.54 459.47,408.28 460.83,412.72 462.22,411.78 463.24,412.28 464.01,412.76 464.98,416.96 466.48,413.05 467.29,416.52 468.82,419.89 469.83,416.09 470.86,409.41 471.62,413.78 472.59,418.21 473.69,420.31 475.23,423.75 476.5,414.95 477.62,422.29 478.7,418.23 479.32,420.19 480.4,419.09 481.96,421.52 483.02,414 484.1,418.4 484.73,414.38 486.29,408.85 487.37,408.52 488.49,408.73 489.29,413.53 490.43,406.55 491.53,418.87 492.48,414.73 493.55,420.93 495.1,423.14 495.77,422.54 497.2,412.99 498.1,418.99 498.98,420.54 500.71,419.02 501.79,418.3 502.56,424.46 503.51,417.32 504.64,419.86 505.96,420.95 506.84,416.39 508.37,416.96 509.1,412.14 510.57,416.15 511.35,417.63 512.52,412.92 513.62,417.01 514.49,414.22 515.47,415.12 516.88,413.76 518.15,413.83 519.11,415.98 520.24,417.82 521.34,416.99 522.23,418.12 523.51,424.14 524.64,420.59 525.66,414.93 526.87,416.78 528.03,418.8 528.97,414.8 530.39,416.07 531.33,420.22 532.14,410 533.44,418.26 534.26,412.24 535.35,416.09 536.53,420.46 537.52,420.82 539.16,418.99 539.77,420.96 540.86,416.6 542.45,421.02 543.6,417.47 544.33,408.82 545.72,416.75 546.38,412.27 547.59,415.7 548.6,412.16 549.58,418.33 551.04,414.37 551.99,415.48 553.28,414.75 554.62,417.05 555.59,420.14 556.35,420.42 557.3,422.8 558.46,421.85 559.75,427.1 560.74,419.12 561.77,423.73 563.23,417.08 563.93,419.35 565.25,413.65 566.12,415.04 567.7,411.42 568.33,414.86 569.94,414.83 570.77,412.65 572.18,415.73 572.85,413.45 573.93,412.3 574.94,412.29 576.1,414.49 577.28,414.14 578.36,421.41 579.6,418.87 580.38,420.68 581.64,423.47 582.93,420.19 583.8,413.56 584.84,420.56 586.41,416.47 587.52,420.43 588.33,414.72 589.82,417.57 590.5,418.73 591.79,411.86 592.74,414.78 593.66,417.41 594.72,417.93 595.88,417.35 596.93,421.81 598.41,412.5 599.26,415.43 600.47,415.81 601.37,409.82 603,412.72 604.11,410.36 605.21,411.98 605.87,412.96 607.02,414.24 608.18,413.43 609.3,416.31 610.07,417.34 611.43,418.8 612.3,419.47 613.52,417.08 614.86,411.89 616,415.05 617.14,417.17 617.99,412.72 619.52,416.47 620.39,416.75 621.1,415.56 622.58,407.31 623.75,412.33 624.72,409.96 625.8,413.37 627.12,407.07 628.06,415.35 629.23,410.48 630.02,415.33 631.21,415.07 632.14,416.81 633.58,412.29 634.68,414.15 635.37,412.86 637,416.02 637.92,413.52 639.11,421.41 639.94,419.81 640.92,418.27 642.11,422.68 643.56,420.57 644.42,416.1 645.59,413.84 646.78,410.61 647.89,415.73 648.74,414.65 650.16,412.33 650.78,416.36 651.91,412.15 653.43,416.18 654.52,410.91 655.48,414.45 656.58,415.06 657.5,414.09 659.12,409.95 659.87,408.55 661.21,411.07 661.95,407.04 663.01,408.83 664.35,406.29 665.16,401.86 666.26,408.99 667.81,405.9 668.83,412.76 669.62,415.94 670.59,410.92 671.67,409.18 672.97,411.62 673.96,409.5 675.52,412.36 676.07,410.06 677.25,404.51 678.88,407.97 679.56,403.28 680.72,400.78 681.96,414.14 682.91,405.47 683.8,407.81 684.94,407.44 686.59,403.86 687.23,405.54 688.3,409.44 689.52,411.99 690.91,405.44 691.89,412.82 692.93,404.28 694.14,411.34 695.07,408.06 696.37,404.92 697,404.09 698.68,408.03 699.4,408.76 700.47,406.72 701.54,400.52 702.9,407.47 703.83,412.83 704.78,411.63 706.37,413.33 707.2,413.77 708.63,417.12 709.37,411.16 710.23,410.06 711.5,409.07 712.54,408.08 713.85,411.29 714.84,405.84 715.94,407.05 716.99,410.13 717.91,409.85 719.05,418.47 720.4,408.25 721.31,408.47 722.45,412.89 723.66,416.42 725.1,417.7 725.58,410.88 726.69,414.32 728.08,409.98 729.26,418.01 730.58,415.1 731.61,419.33 732.33,409.61 733.34,417.82 734.82,419.33 736.09,416.6 737.07,414.02 737.97,416.69 739.29,416.74 740.02,419.95 741.17,414.22 742.15,415.52 743.63,418.75 744.34,417.22 745.75,414.99 746.73,413.53 747.58,415.37 748.87,403.82 750.2,410.79 751.45,405.85 752.13,406.81 753.7,404.75 754.18,402.08 755.6,401.92 756.54,399.38 757.91,401.97 758.59,397.71 759.89,393.35 760.9,399.32 762.4,398.61 763.11,397.1 764.71,400.83 765.32,409.92 766.42,407.85 768,406.11 768.8,409.76 769.85,411.46 771.11,411.79 772.03,410.06 773.01,411.57 774,409.42 775.11,404.7 776.75,412.36 777.75,415.61 778.59,410.14 779.59,415.23 780.59,410.24 782.11,410.83 782.99,414.09 783.98,414.03 785.2,411.44 786.7,415.93 787.31,415.51 788.51,412.59 789.66,405.67 790.5,407.39 792.18,410.18 792.8,406.27 793.79,414.83 795.14,412.68 796,407.11 797.09,417.42 798.34,414.58 799.76,414.67 800.55,411.67 802.1,412.01 803.04,412.28 803.88,413.43 805.27,413.48 806.47,408.72 806.99,407.99 808.22,406.27 809.8,414.23 810.53,413.38 811.7,416.48 813.08,415.47 814.06,416.16 815.21,410.49 815.99,404.55 817.08,403.39 818.02,408.48 819.2,403.54 820.21,400.1 821.29,398.49" fill="none" stroke="#000" stroke-width="5.5" stroke-dasharray="9.4 8" stroke-linejoin="miter" stroke-miterlimit="3"/>
</g></svg></body></html>
